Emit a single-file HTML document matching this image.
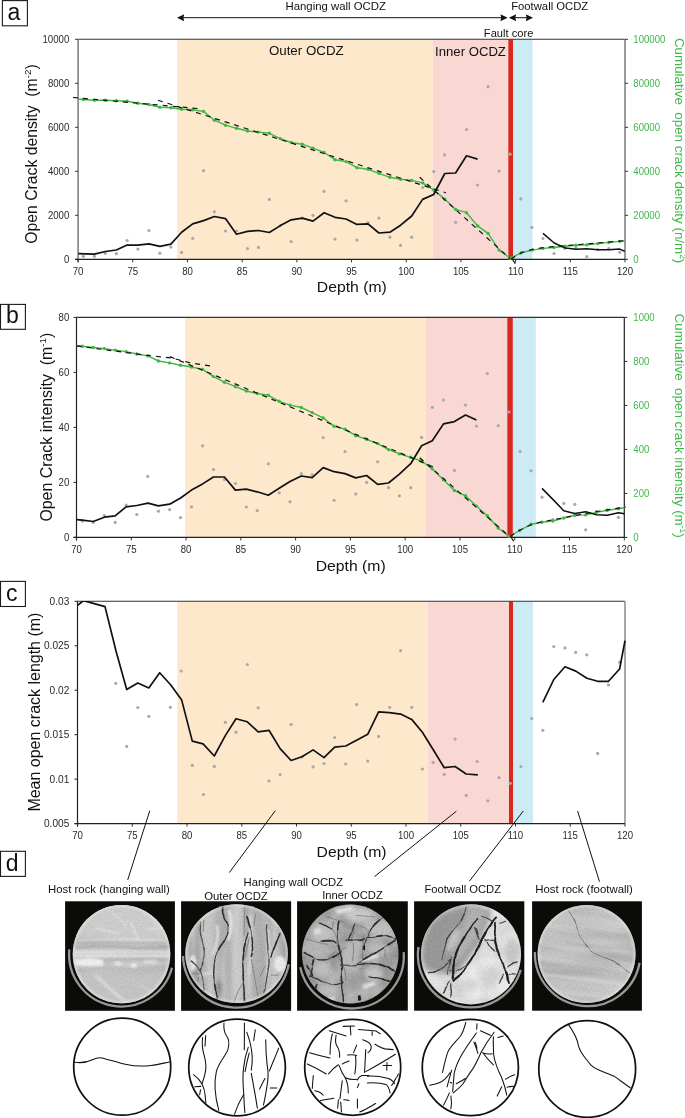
<!DOCTYPE html><html><head><meta charset="utf-8"><style>html,body{margin:0;padding:0;background:#fff;}svg{display:block;will-change:transform;}</style></head><body>
<svg width="685" height="1118" viewBox="0 0 685 1118" font-family="'Liberation Sans', sans-serif">
<rect width="685" height="1118" fill="#fff"/>
<rect x="2.4" y="0.6" width="25.0" height="25.2" fill="#fff" stroke="#1a1a1a" stroke-width="1.1"/>
<text x="13.8" y="20.2" font-size="23" fill="#111" text-anchor="middle" >a</text>
<line x1="180" y1="17.7" x2="503" y2="17.7" stroke="#111" stroke-width="1" />
<path d="M177,17.7 L184.2,14.2 L183.39999999999998,17.7 L184.2,21.2 Z" fill="#111"/>
<path d="M507.6,17.7 L500.40000000000003,14.2 L501.20000000000005,17.7 L500.40000000000003,21.2 Z" fill="#111"/>
<line x1="512" y1="17.7" x2="530" y2="17.7" stroke="#111" stroke-width="1" />
<path d="M508.9,17.7 L516.1,14.2 L515.3000000000001,17.7 L516.1,21.2 Z" fill="#111"/>
<path d="M533,17.7 L525.8,14.2 L526.5999999999999,17.7 L525.8,21.2 Z" fill="#111"/>
<text x="335.7" y="9.6" font-size="11.2" fill="#111" text-anchor="middle" textLength="100.5" lengthAdjust="spacingAndGlyphs" >Hanging wall OCDZ</text>
<text x="549.7" y="9.6" font-size="11.2" fill="#111" text-anchor="middle" textLength="77" lengthAdjust="spacingAndGlyphs" >Footwall OCDZ</text>
<text x="508.6" y="37.3" font-size="11" fill="#111" text-anchor="middle" textLength="49.5" lengthAdjust="spacingAndGlyphs" >Fault core</text>
<rect x="177" y="39.3" width="255.89999999999998" height="220.0" fill="#FDE8CC" />
<rect x="432.9" y="39.3" width="75.40000000000003" height="220.0" fill="#F9D8D4" />
<rect x="513" y="39.3" width="19.600000000000023" height="220.0" fill="#CDEBF5" />
<rect x="508.3" y="39.3" width="4.699999999999989" height="220.0" fill="#D8281E" />
<line x1="78.1" y1="39.3" x2="625" y2="39.3" stroke="#333" stroke-width="1.1" />
<line x1="78.1" y1="39.3" x2="78.1" y2="262.3" stroke="#8a8a8a" stroke-width="1.7" />
<line x1="625" y1="39.3" x2="625" y2="259.3" stroke="#8a8a8a" stroke-width="1.7" />
<line x1="75.1" y1="259.3" x2="78.1" y2="259.3" stroke="#333" stroke-width="1" />
<text x="69.3" y="263.0" font-size="10.7" fill="#2a2a2a" text-anchor="end" textLength="5.36" lengthAdjust="spacingAndGlyphs" >0</text>
<line x1="75.1" y1="215.3" x2="78.1" y2="215.3" stroke="#333" stroke-width="1" />
<text x="69.3" y="219.0" font-size="10.7" fill="#2a2a2a" text-anchor="end" textLength="21.42" lengthAdjust="spacingAndGlyphs" >2000</text>
<line x1="75.1" y1="171.3" x2="78.1" y2="171.3" stroke="#333" stroke-width="1" />
<text x="69.3" y="175.0" font-size="10.7" fill="#2a2a2a" text-anchor="end" textLength="21.42" lengthAdjust="spacingAndGlyphs" >4000</text>
<line x1="75.1" y1="127.30000000000001" x2="78.1" y2="127.30000000000001" stroke="#333" stroke-width="1" />
<text x="69.3" y="131.0" font-size="10.7" fill="#2a2a2a" text-anchor="end" textLength="21.42" lengthAdjust="spacingAndGlyphs" >6000</text>
<line x1="75.1" y1="83.30000000000001" x2="78.1" y2="83.30000000000001" stroke="#333" stroke-width="1" />
<text x="69.3" y="87.00000000000001" font-size="10.7" fill="#2a2a2a" text-anchor="end" textLength="21.42" lengthAdjust="spacingAndGlyphs" >8000</text>
<line x1="75.1" y1="39.30000000000001" x2="78.1" y2="39.30000000000001" stroke="#333" stroke-width="1" />
<text x="69.3" y="43.000000000000014" font-size="10.7" fill="#2a2a2a" text-anchor="end" textLength="26.78" lengthAdjust="spacingAndGlyphs" >10000</text>
<line x1="625" y1="259.3" x2="628" y2="259.3" stroke="#333" stroke-width="1" />
<text x="633.3" y="263.0" font-size="10.7" fill="#3EB847" text-anchor="start" textLength="5.36" lengthAdjust="spacingAndGlyphs" >0</text>
<line x1="625" y1="215.3" x2="628" y2="215.3" stroke="#333" stroke-width="1" />
<text x="633.3" y="219.0" font-size="10.7" fill="#3EB847" text-anchor="start" textLength="26.78" lengthAdjust="spacingAndGlyphs" >20000</text>
<line x1="625" y1="171.3" x2="628" y2="171.3" stroke="#333" stroke-width="1" />
<text x="633.3" y="175.0" font-size="10.7" fill="#3EB847" text-anchor="start" textLength="26.78" lengthAdjust="spacingAndGlyphs" >40000</text>
<line x1="625" y1="127.30000000000001" x2="628" y2="127.30000000000001" stroke="#333" stroke-width="1" />
<text x="633.3" y="131.0" font-size="10.7" fill="#3EB847" text-anchor="start" textLength="26.78" lengthAdjust="spacingAndGlyphs" >60000</text>
<line x1="625" y1="83.30000000000001" x2="628" y2="83.30000000000001" stroke="#333" stroke-width="1" />
<text x="633.3" y="87.00000000000001" font-size="10.7" fill="#3EB847" text-anchor="start" textLength="26.78" lengthAdjust="spacingAndGlyphs" >80000</text>
<line x1="625" y1="39.30000000000001" x2="628" y2="39.30000000000001" stroke="#333" stroke-width="1" />
<text x="633.3" y="43.000000000000014" font-size="10.7" fill="#3EB847" text-anchor="start" textLength="32.14" lengthAdjust="spacingAndGlyphs" >100000</text>
<line x1="78.1" y1="259.3" x2="78.1" y2="262.3" stroke="#333" stroke-width="1" />
<text x="78.1" y="274.7" font-size="10.7" fill="#2a2a2a" text-anchor="middle" textLength="10.71" lengthAdjust="spacingAndGlyphs" >70</text>
<line x1="132.79" y1="259.3" x2="132.79" y2="262.3" stroke="#333" stroke-width="1" />
<text x="132.79" y="274.7" font-size="10.7" fill="#2a2a2a" text-anchor="middle" textLength="10.71" lengthAdjust="spacingAndGlyphs" >75</text>
<line x1="187.48" y1="259.3" x2="187.48" y2="262.3" stroke="#333" stroke-width="1" />
<text x="187.48" y="274.7" font-size="10.7" fill="#2a2a2a" text-anchor="middle" textLength="10.71" lengthAdjust="spacingAndGlyphs" >80</text>
<line x1="242.17" y1="259.3" x2="242.17" y2="262.3" stroke="#333" stroke-width="1" />
<text x="242.17" y="274.7" font-size="10.7" fill="#2a2a2a" text-anchor="middle" textLength="10.71" lengthAdjust="spacingAndGlyphs" >85</text>
<line x1="296.86" y1="259.3" x2="296.86" y2="262.3" stroke="#333" stroke-width="1" />
<text x="296.86" y="274.7" font-size="10.7" fill="#2a2a2a" text-anchor="middle" textLength="10.71" lengthAdjust="spacingAndGlyphs" >90</text>
<line x1="351.54999999999995" y1="259.3" x2="351.54999999999995" y2="262.3" stroke="#333" stroke-width="1" />
<text x="351.54999999999995" y="274.7" font-size="10.7" fill="#2a2a2a" text-anchor="middle" textLength="10.71" lengthAdjust="spacingAndGlyphs" >95</text>
<line x1="406.24" y1="259.3" x2="406.24" y2="262.3" stroke="#333" stroke-width="1" />
<text x="406.24" y="274.7" font-size="10.7" fill="#2a2a2a" text-anchor="middle" textLength="16.07" lengthAdjust="spacingAndGlyphs" >100</text>
<line x1="460.92999999999995" y1="259.3" x2="460.92999999999995" y2="262.3" stroke="#333" stroke-width="1" />
<text x="460.92999999999995" y="274.7" font-size="10.7" fill="#2a2a2a" text-anchor="middle" textLength="16.07" lengthAdjust="spacingAndGlyphs" >105</text>
<line x1="515.62" y1="259.3" x2="515.62" y2="262.3" stroke="#333" stroke-width="1" />
<text x="515.62" y="274.7" font-size="10.7" fill="#2a2a2a" text-anchor="middle" textLength="15.35" lengthAdjust="spacingAndGlyphs" >110</text>
<line x1="570.31" y1="259.3" x2="570.31" y2="262.3" stroke="#333" stroke-width="1" />
<text x="570.31" y="274.7" font-size="10.7" fill="#2a2a2a" text-anchor="middle" textLength="15.35" lengthAdjust="spacingAndGlyphs" >115</text>
<line x1="625.0" y1="259.3" x2="625.0" y2="262.3" stroke="#333" stroke-width="1" />
<text x="625.0" y="274.7" font-size="10.7" fill="#2a2a2a" text-anchor="middle" textLength="16.07" lengthAdjust="spacingAndGlyphs" >120</text>
<line x1="75.1" y1="259.3" x2="625" y2="259.3" stroke="#222" stroke-width="1.2" />
<text x="351.85" y="292.40000000000003" font-size="15.2" fill="#111" text-anchor="middle" textLength="70.0" lengthAdjust="spacingAndGlyphs" >Depth (m)</text>
<text x="306.3" y="55.2" font-size="13.2" fill="#111" text-anchor="middle" textLength="74.8" lengthAdjust="spacingAndGlyphs" >Outer OCDZ</text>
<text x="470.5" y="56.4" font-size="13.2" fill="#111" text-anchor="middle" textLength="70.8" lengthAdjust="spacingAndGlyphs" >Inner OCDZ</text>
<text transform="translate(37.1,154.0) rotate(-90)" x="0" y="0" font-size="15.8" fill="#111" text-anchor="middle" textLength="179.3" lengthAdjust="spacingAndGlyphs">Open Crack density&#160; (m<tspan font-size="9.8" dy="-6">-2</tspan><tspan dy="6">)</tspan></text>
<text transform="translate(674.5,150.6) rotate(90)" x="0" y="0" font-size="13.6" fill="#3EB847" text-anchor="middle" textLength="225.3" lengthAdjust="spacingAndGlyphs">Cumulative&#160; open crack density (n/m<tspan font-size="8.4" dy="-5.5">2</tspan><tspan dy="5.5">)</tspan></text>
<circle cx="83.3" cy="256.3" r="1.6" fill="#ABA7AC"/>
<circle cx="94.4" cy="256.3" r="1.6" fill="#ABA7AC"/>
<circle cx="105.3" cy="253.4" r="1.6" fill="#ABA7AC"/>
<circle cx="116.4" cy="253.7" r="1.6" fill="#ABA7AC"/>
<circle cx="127.1" cy="240.5" r="1.6" fill="#ABA7AC"/>
<circle cx="137.9" cy="249.1" r="1.6" fill="#ABA7AC"/>
<circle cx="148.9" cy="230.5" r="1.6" fill="#ABA7AC"/>
<circle cx="159.9" cy="253.2" r="1.6" fill="#ABA7AC"/>
<circle cx="170.9" cy="247.1" r="1.6" fill="#ABA7AC"/>
<circle cx="181.6" cy="252.4" r="1.6" fill="#ABA7AC"/>
<circle cx="192.7" cy="238.3" r="1.6" fill="#ABA7AC"/>
<circle cx="203.6" cy="170.7" r="1.6" fill="#ABA7AC"/>
<circle cx="214.4" cy="211.8" r="1.6" fill="#ABA7AC"/>
<circle cx="225.5" cy="231.0" r="1.6" fill="#ABA7AC"/>
<circle cx="236.5" cy="231.0" r="1.6" fill="#ABA7AC"/>
<circle cx="247.5" cy="248.7" r="1.6" fill="#ABA7AC"/>
<circle cx="258.5" cy="247.4" r="1.6" fill="#ABA7AC"/>
<circle cx="269.3" cy="199.4" r="1.6" fill="#ABA7AC"/>
<circle cx="280.4" cy="225.6" r="1.6" fill="#ABA7AC"/>
<circle cx="291.2" cy="241.6" r="1.6" fill="#ABA7AC"/>
<circle cx="302.3" cy="218.1" r="1.6" fill="#ABA7AC"/>
<circle cx="313.0" cy="215.3" r="1.6" fill="#ABA7AC"/>
<circle cx="324.1" cy="191.3" r="1.6" fill="#ABA7AC"/>
<circle cx="335.0" cy="239.1" r="1.6" fill="#ABA7AC"/>
<circle cx="346.1" cy="200.8" r="1.6" fill="#ABA7AC"/>
<circle cx="356.9" cy="240.1" r="1.6" fill="#ABA7AC"/>
<circle cx="368.0" cy="222.6" r="1.6" fill="#ABA7AC"/>
<circle cx="378.9" cy="218.1" r="1.6" fill="#ABA7AC"/>
<circle cx="389.9" cy="237.2" r="1.6" fill="#ABA7AC"/>
<circle cx="400.6" cy="245.4" r="1.6" fill="#ABA7AC"/>
<circle cx="411.7" cy="237.2" r="1.6" fill="#ABA7AC"/>
<circle cx="422.6" cy="187.5" r="1.6" fill="#ABA7AC"/>
<circle cx="433.7" cy="171.5" r="1.6" fill="#ABA7AC"/>
<circle cx="444.5" cy="154.9" r="1.6" fill="#ABA7AC"/>
<circle cx="455.6" cy="222.3" r="1.6" fill="#ABA7AC"/>
<circle cx="466.5" cy="129.6" r="1.6" fill="#ABA7AC"/>
<circle cx="477.6" cy="185.0" r="1.6" fill="#ABA7AC"/>
<circle cx="488.1" cy="86.7" r="1.6" fill="#ABA7AC"/>
<circle cx="499.1" cy="171.1" r="1.6" fill="#ABA7AC"/>
<circle cx="510.2" cy="154.2" r="1.6" fill="#ABA7AC"/>
<circle cx="520.8" cy="198.9" r="1.6" fill="#ABA7AC"/>
<circle cx="531.9" cy="227.4" r="1.6" fill="#ABA7AC"/>
<circle cx="543.0" cy="238.5" r="1.6" fill="#ABA7AC"/>
<circle cx="554.0" cy="253.5" r="1.6" fill="#ABA7AC"/>
<circle cx="564.9" cy="248.3" r="1.6" fill="#ABA7AC"/>
<circle cx="575.9" cy="248.2" r="1.6" fill="#ABA7AC"/>
<circle cx="586.8" cy="256.7" r="1.6" fill="#ABA7AC"/>
<circle cx="597.8" cy="249.6" r="1.6" fill="#ABA7AC"/>
<circle cx="608.7" cy="248.7" r="1.6" fill="#ABA7AC"/>
<circle cx="619.7" cy="252.3" r="1.6" fill="#ABA7AC"/>
<polyline points="78.3,99.0 83.3,99.5 94.4,100.2 105.3,100.2 116.4,100.8 127.1,101.2 137.9,103.2 148.9,104.5 159.9,107.3 170.9,107.8 181.6,109.3 192.7,109.8 203.6,111.4 214.4,120.2 225.5,125.2 236.5,128.3 247.5,131.0 258.5,132.1 269.3,133.3 280.4,138.7 291.2,142.5 302.3,144.2 313.0,148.2 324.1,152.5 335.0,159.7 346.1,161.6 356.9,167.7 368.0,169.3 378.9,173.3 389.9,177.3 400.6,179.3 411.7,180.4 422.6,182.9 433.7,190.0 444.8,199.1 455.6,209.4 466.5,212.7 477.6,225.9 488.1,233.4 499.1,250.1 510.2,258.2 521.2,252.8 532.3,250.1 543.0,248.4 554.0,247.5 564.9,246.2 575.9,245.2 586.8,244.7 597.8,243.6 608.7,242.4 619.7,241.4 624.8,241.0" fill="none" stroke="#3EB847" stroke-width="1.4" stroke-linejoin="round" stroke-linecap="butt" />
<circle cx="83.3" cy="99.5" r="1.7" fill="#3EB847"/>
<circle cx="94.4" cy="100.2" r="1.7" fill="#3EB847"/>
<circle cx="105.3" cy="100.2" r="1.7" fill="#3EB847"/>
<circle cx="116.4" cy="100.8" r="1.7" fill="#3EB847"/>
<circle cx="127.1" cy="101.2" r="1.7" fill="#3EB847"/>
<circle cx="137.9" cy="103.2" r="1.7" fill="#3EB847"/>
<circle cx="148.9" cy="104.5" r="1.7" fill="#3EB847"/>
<circle cx="159.9" cy="107.3" r="1.7" fill="#3EB847"/>
<circle cx="170.9" cy="107.8" r="1.7" fill="#3EB847"/>
<circle cx="181.6" cy="109.3" r="1.7" fill="#3EB847"/>
<circle cx="192.7" cy="109.8" r="1.7" fill="#3EB847"/>
<circle cx="203.6" cy="111.4" r="1.7" fill="#3EB847"/>
<circle cx="214.4" cy="120.2" r="1.7" fill="#3EB847"/>
<circle cx="225.5" cy="125.2" r="1.7" fill="#3EB847"/>
<circle cx="236.5" cy="128.3" r="1.7" fill="#3EB847"/>
<circle cx="247.5" cy="131.0" r="1.7" fill="#3EB847"/>
<circle cx="258.5" cy="132.1" r="1.7" fill="#3EB847"/>
<circle cx="269.3" cy="133.3" r="1.7" fill="#3EB847"/>
<circle cx="280.4" cy="138.7" r="1.7" fill="#3EB847"/>
<circle cx="291.2" cy="142.5" r="1.7" fill="#3EB847"/>
<circle cx="302.3" cy="144.2" r="1.7" fill="#3EB847"/>
<circle cx="313.0" cy="148.2" r="1.7" fill="#3EB847"/>
<circle cx="324.1" cy="152.5" r="1.7" fill="#3EB847"/>
<circle cx="335.0" cy="159.7" r="1.7" fill="#3EB847"/>
<circle cx="346.1" cy="161.6" r="1.7" fill="#3EB847"/>
<circle cx="356.9" cy="167.7" r="1.7" fill="#3EB847"/>
<circle cx="368.0" cy="169.3" r="1.7" fill="#3EB847"/>
<circle cx="378.9" cy="173.3" r="1.7" fill="#3EB847"/>
<circle cx="389.9" cy="177.3" r="1.7" fill="#3EB847"/>
<circle cx="400.6" cy="179.3" r="1.7" fill="#3EB847"/>
<circle cx="411.7" cy="180.4" r="1.7" fill="#3EB847"/>
<circle cx="422.6" cy="182.9" r="1.7" fill="#3EB847"/>
<circle cx="433.7" cy="190.0" r="1.7" fill="#3EB847"/>
<circle cx="444.8" cy="199.1" r="1.7" fill="#3EB847"/>
<circle cx="455.6" cy="209.4" r="1.7" fill="#3EB847"/>
<circle cx="466.5" cy="212.7" r="1.7" fill="#3EB847"/>
<circle cx="477.6" cy="225.9" r="1.7" fill="#3EB847"/>
<circle cx="488.1" cy="233.4" r="1.7" fill="#3EB847"/>
<circle cx="499.1" cy="250.1" r="1.7" fill="#3EB847"/>
<circle cx="510.2" cy="258.2" r="1.7" fill="#3EB847"/>
<circle cx="521.2" cy="252.8" r="1.7" fill="#3EB847"/>
<circle cx="532.3" cy="250.1" r="1.7" fill="#3EB847"/>
<circle cx="543.0" cy="248.4" r="1.7" fill="#3EB847"/>
<circle cx="554.0" cy="247.5" r="1.7" fill="#3EB847"/>
<circle cx="564.9" cy="246.2" r="1.7" fill="#3EB847"/>
<circle cx="575.9" cy="245.2" r="1.7" fill="#3EB847"/>
<circle cx="586.8" cy="244.7" r="1.7" fill="#3EB847"/>
<circle cx="597.8" cy="243.6" r="1.7" fill="#3EB847"/>
<circle cx="608.7" cy="242.4" r="1.7" fill="#3EB847"/>
<circle cx="619.7" cy="241.4" r="1.7" fill="#3EB847"/>
<polyline points="73.0,97.5 200.0,108.7" fill="none" stroke="#111" stroke-width="1.2" stroke-linejoin="round" stroke-linecap="butt" stroke-dasharray="5,5"/>
<polyline points="158.0,100.2 446.0,192.8" fill="none" stroke="#111" stroke-width="1.2" stroke-linejoin="round" stroke-linecap="butt" stroke-dasharray="5,5"/>
<polyline points="419.7,177.3 510.0,258.5" fill="none" stroke="#111" stroke-width="1.2" stroke-linejoin="round" stroke-linecap="butt" stroke-dasharray="5,5"/>
<polyline points="511.0,259.0 522.0,252.5 533.0,249.2 543.0,247.6 560.0,246.0 580.0,244.5 600.0,242.8 626.0,240.5" fill="none" stroke="#111" stroke-width="1.2" stroke-linejoin="round" stroke-linecap="butt" stroke-dasharray="5,5"/>
<polyline points="512.5,259.5 516.0,264.5" fill="none" stroke="#111" stroke-width="1.2" stroke-linejoin="round" stroke-linecap="butt" stroke-dasharray="5,5"/>
<polyline points="78.3,253.7 94.4,254.2 105.3,251.5 116.4,250.0 127.1,245.1 137.9,245.1 148.9,243.8 159.9,246.3 170.9,244.1 181.6,232.2 192.7,223.9 203.6,220.6 214.4,216.5 225.5,218.6 236.5,234.2 247.5,231.4 258.5,230.5 269.3,232.5 280.4,225.6 291.2,219.8 302.3,218.1 313.0,221.1 324.1,212.7 335.0,217.3 346.1,219.0 356.9,224.4 368.0,223.9 378.9,233.0 389.9,232.2 400.6,225.2 411.7,216.0 422.6,199.4 433.7,194.5 444.8,173.5 455.6,173.0 466.5,155.8 477.6,159.1" fill="none" stroke="#111" stroke-width="1.7" stroke-linejoin="round" stroke-linecap="butt" />
<polyline points="543.0,233.4 554.2,243.0 565.5,248.1 576.2,249.3 586.8,248.7 597.8,249.7 608.7,249.7 619.7,249.1 624.8,251.2" fill="none" stroke="#111" stroke-width="1.5" stroke-linejoin="round" stroke-linecap="butt" />
<rect x="0.5" y="304.4" width="24.9" height="24.9" fill="#fff" stroke="#1a1a1a" stroke-width="1.1"/>
<text x="12.45" y="323.4" font-size="23" fill="#111" text-anchor="middle" >b</text>
<rect x="185" y="317.4" width="240.7" height="220.0" fill="#FDE8CC" />
<rect x="425.7" y="317.4" width="81.60000000000002" height="220.0" fill="#F9D8D4" />
<rect x="512.8" y="317.4" width="23.0" height="220.0" fill="#CDEBF5" />
<rect x="507.3" y="317.4" width="5.499999999999943" height="220.0" fill="#D8281E" />
<line x1="76.5" y1="317.4" x2="624.3" y2="317.4" stroke="#333" stroke-width="1.1" />
<line x1="76.5" y1="317.4" x2="76.5" y2="540.4" stroke="#222" stroke-width="1.2" />
<line x1="624.3" y1="317.4" x2="624.3" y2="537.4" stroke="#222" stroke-width="1.2" />
<line x1="73.5" y1="537.4" x2="76.5" y2="537.4" stroke="#222" stroke-width="1" />
<text x="69.3" y="541.1" font-size="10.7" fill="#2a2a2a" text-anchor="end" textLength="5.36" lengthAdjust="spacingAndGlyphs" >0</text>
<line x1="73.5" y1="482.4" x2="76.5" y2="482.4" stroke="#222" stroke-width="1" />
<text x="69.3" y="486.09999999999997" font-size="10.7" fill="#2a2a2a" text-anchor="end" textLength="10.71" lengthAdjust="spacingAndGlyphs" >20</text>
<line x1="73.5" y1="427.4" x2="76.5" y2="427.4" stroke="#222" stroke-width="1" />
<text x="69.3" y="431.09999999999997" font-size="10.7" fill="#2a2a2a" text-anchor="end" textLength="10.71" lengthAdjust="spacingAndGlyphs" >40</text>
<line x1="73.5" y1="372.4" x2="76.5" y2="372.4" stroke="#222" stroke-width="1" />
<text x="69.3" y="376.09999999999997" font-size="10.7" fill="#2a2a2a" text-anchor="end" textLength="10.71" lengthAdjust="spacingAndGlyphs" >60</text>
<line x1="73.5" y1="317.4" x2="76.5" y2="317.4" stroke="#222" stroke-width="1" />
<text x="69.3" y="321.09999999999997" font-size="10.7" fill="#2a2a2a" text-anchor="end" textLength="10.71" lengthAdjust="spacingAndGlyphs" >80</text>
<line x1="624.3" y1="537.4" x2="627.3" y2="537.4" stroke="#222" stroke-width="1" />
<text x="633.3" y="541.1" font-size="10.7" fill="#3EB847" text-anchor="start" textLength="5.36" lengthAdjust="spacingAndGlyphs" >0</text>
<line x1="624.3" y1="493.4" x2="627.3" y2="493.4" stroke="#222" stroke-width="1" />
<text x="633.3" y="497.09999999999997" font-size="10.7" fill="#3EB847" text-anchor="start" textLength="16.07" lengthAdjust="spacingAndGlyphs" >200</text>
<line x1="624.3" y1="449.4" x2="627.3" y2="449.4" stroke="#222" stroke-width="1" />
<text x="633.3" y="453.09999999999997" font-size="10.7" fill="#3EB847" text-anchor="start" textLength="16.07" lengthAdjust="spacingAndGlyphs" >400</text>
<line x1="624.3" y1="405.4" x2="627.3" y2="405.4" stroke="#222" stroke-width="1" />
<text x="633.3" y="409.09999999999997" font-size="10.7" fill="#3EB847" text-anchor="start" textLength="16.07" lengthAdjust="spacingAndGlyphs" >600</text>
<line x1="624.3" y1="361.4" x2="627.3" y2="361.4" stroke="#222" stroke-width="1" />
<text x="633.3" y="365.09999999999997" font-size="10.7" fill="#3EB847" text-anchor="start" textLength="16.07" lengthAdjust="spacingAndGlyphs" >800</text>
<line x1="624.3" y1="317.4" x2="627.3" y2="317.4" stroke="#222" stroke-width="1" />
<text x="633.3" y="321.09999999999997" font-size="10.7" fill="#3EB847" text-anchor="start" textLength="21.42" lengthAdjust="spacingAndGlyphs" >1000</text>
<line x1="76.5" y1="537.4" x2="76.5" y2="540.4" stroke="#333" stroke-width="1" />
<text x="76.5" y="552.8" font-size="10.7" fill="#2a2a2a" text-anchor="middle" textLength="10.71" lengthAdjust="spacingAndGlyphs" >70</text>
<line x1="131.28" y1="537.4" x2="131.28" y2="540.4" stroke="#333" stroke-width="1" />
<text x="131.28" y="552.8" font-size="10.7" fill="#2a2a2a" text-anchor="middle" textLength="10.71" lengthAdjust="spacingAndGlyphs" >75</text>
<line x1="186.06" y1="537.4" x2="186.06" y2="540.4" stroke="#333" stroke-width="1" />
<text x="186.06" y="552.8" font-size="10.7" fill="#2a2a2a" text-anchor="middle" textLength="10.71" lengthAdjust="spacingAndGlyphs" >80</text>
<line x1="240.83999999999997" y1="537.4" x2="240.83999999999997" y2="540.4" stroke="#333" stroke-width="1" />
<text x="240.83999999999997" y="552.8" font-size="10.7" fill="#2a2a2a" text-anchor="middle" textLength="10.71" lengthAdjust="spacingAndGlyphs" >85</text>
<line x1="295.62" y1="537.4" x2="295.62" y2="540.4" stroke="#333" stroke-width="1" />
<text x="295.62" y="552.8" font-size="10.7" fill="#2a2a2a" text-anchor="middle" textLength="10.71" lengthAdjust="spacingAndGlyphs" >90</text>
<line x1="350.4" y1="537.4" x2="350.4" y2="540.4" stroke="#333" stroke-width="1" />
<text x="350.4" y="552.8" font-size="10.7" fill="#2a2a2a" text-anchor="middle" textLength="10.71" lengthAdjust="spacingAndGlyphs" >95</text>
<line x1="405.17999999999995" y1="537.4" x2="405.17999999999995" y2="540.4" stroke="#333" stroke-width="1" />
<text x="405.17999999999995" y="552.8" font-size="10.7" fill="#2a2a2a" text-anchor="middle" textLength="16.07" lengthAdjust="spacingAndGlyphs" >100</text>
<line x1="459.9599999999999" y1="537.4" x2="459.9599999999999" y2="540.4" stroke="#333" stroke-width="1" />
<text x="459.9599999999999" y="552.8" font-size="10.7" fill="#2a2a2a" text-anchor="middle" textLength="16.07" lengthAdjust="spacingAndGlyphs" >105</text>
<line x1="514.74" y1="537.4" x2="514.74" y2="540.4" stroke="#333" stroke-width="1" />
<text x="514.74" y="552.8" font-size="10.7" fill="#2a2a2a" text-anchor="middle" textLength="15.35" lengthAdjust="spacingAndGlyphs" >110</text>
<line x1="569.52" y1="537.4" x2="569.52" y2="540.4" stroke="#333" stroke-width="1" />
<text x="569.52" y="552.8" font-size="10.7" fill="#2a2a2a" text-anchor="middle" textLength="15.35" lengthAdjust="spacingAndGlyphs" >115</text>
<line x1="624.3" y1="537.4" x2="624.3" y2="540.4" stroke="#333" stroke-width="1" />
<text x="624.3" y="552.8" font-size="10.7" fill="#2a2a2a" text-anchor="middle" textLength="16.07" lengthAdjust="spacingAndGlyphs" >120</text>
<line x1="73.5" y1="537.4" x2="624.3" y2="537.4" stroke="#222" stroke-width="1.2" />
<text x="350.7" y="570.5" font-size="15.2" fill="#111" text-anchor="middle" textLength="70.0" lengthAdjust="spacingAndGlyphs" >Depth (m)</text>
<text transform="translate(52.3,427.1) rotate(-90)" x="0" y="0" font-size="15.8" fill="#111" text-anchor="middle" textLength="189" lengthAdjust="spacingAndGlyphs">Open Crack intensity&#160; (m<tspan font-size="9.8" dy="-6">-1</tspan><tspan dy="6">)</tspan></text>
<text transform="translate(674.5,425.6) rotate(90)" x="0" y="0" font-size="13.6" fill="#3EB847" text-anchor="middle" textLength="224" lengthAdjust="spacingAndGlyphs">Cumulative&#160; open crack intensity (m<tspan font-size="8.4" dy="-5.5">-1</tspan><tspan dy="5.5">)</tspan></text>
<circle cx="82.3" cy="521.1" r="1.6" fill="#ABA7AC"/>
<circle cx="93.2" cy="522.4" r="1.6" fill="#ABA7AC"/>
<circle cx="104.3" cy="515.5" r="1.6" fill="#ABA7AC"/>
<circle cx="115.2" cy="522.4" r="1.6" fill="#ABA7AC"/>
<circle cx="126.1" cy="505.1" r="1.6" fill="#ABA7AC"/>
<circle cx="136.8" cy="514.5" r="1.6" fill="#ABA7AC"/>
<circle cx="147.7" cy="476.4" r="1.6" fill="#ABA7AC"/>
<circle cx="158.4" cy="511.2" r="1.6" fill="#ABA7AC"/>
<circle cx="169.6" cy="509.7" r="1.6" fill="#ABA7AC"/>
<circle cx="180.5" cy="517.7" r="1.6" fill="#ABA7AC"/>
<circle cx="191.5" cy="506.8" r="1.6" fill="#ABA7AC"/>
<circle cx="202.6" cy="445.8" r="1.6" fill="#ABA7AC"/>
<circle cx="213.5" cy="469.5" r="1.6" fill="#ABA7AC"/>
<circle cx="224.4" cy="479.6" r="1.6" fill="#ABA7AC"/>
<circle cx="235.4" cy="483.6" r="1.6" fill="#ABA7AC"/>
<circle cx="246.3" cy="507.0" r="1.6" fill="#ABA7AC"/>
<circle cx="257.2" cy="510.6" r="1.6" fill="#ABA7AC"/>
<circle cx="268.3" cy="463.8" r="1.6" fill="#ABA7AC"/>
<circle cx="279.2" cy="492.8" r="1.6" fill="#ABA7AC"/>
<circle cx="290.0" cy="501.8" r="1.6" fill="#ABA7AC"/>
<circle cx="301.3" cy="473.6" r="1.6" fill="#ABA7AC"/>
<circle cx="312.2" cy="474.9" r="1.6" fill="#ABA7AC"/>
<circle cx="323.2" cy="437.6" r="1.6" fill="#ABA7AC"/>
<circle cx="334.1" cy="500.3" r="1.6" fill="#ABA7AC"/>
<circle cx="345.0" cy="451.6" r="1.6" fill="#ABA7AC"/>
<circle cx="355.7" cy="493.9" r="1.6" fill="#ABA7AC"/>
<circle cx="366.6" cy="482.4" r="1.6" fill="#ABA7AC"/>
<circle cx="377.7" cy="461.8" r="1.6" fill="#ABA7AC"/>
<circle cx="388.5" cy="487.7" r="1.6" fill="#ABA7AC"/>
<circle cx="399.4" cy="495.8" r="1.6" fill="#ABA7AC"/>
<circle cx="410.7" cy="487.7" r="1.6" fill="#ABA7AC"/>
<circle cx="421.6" cy="437.4" r="1.6" fill="#ABA7AC"/>
<circle cx="432.3" cy="407.3" r="1.6" fill="#ABA7AC"/>
<circle cx="443.5" cy="400.0" r="1.6" fill="#ABA7AC"/>
<circle cx="454.4" cy="470.4" r="1.6" fill="#ABA7AC"/>
<circle cx="465.5" cy="405.1" r="1.6" fill="#ABA7AC"/>
<circle cx="476.4" cy="426.1" r="1.6" fill="#ABA7AC"/>
<circle cx="487.3" cy="373.6" r="1.6" fill="#ABA7AC"/>
<circle cx="498.2" cy="425.7" r="1.6" fill="#ABA7AC"/>
<circle cx="509.0" cy="412.0" r="1.6" fill="#ABA7AC"/>
<circle cx="520.1" cy="451.5" r="1.6" fill="#ABA7AC"/>
<circle cx="531.0" cy="470.8" r="1.6" fill="#ABA7AC"/>
<circle cx="542.0" cy="497.2" r="1.6" fill="#ABA7AC"/>
<circle cx="552.9" cy="519.7" r="1.6" fill="#ABA7AC"/>
<circle cx="563.9" cy="503.4" r="1.6" fill="#ABA7AC"/>
<circle cx="574.8" cy="504.3" r="1.6" fill="#ABA7AC"/>
<circle cx="585.7" cy="529.8" r="1.6" fill="#ABA7AC"/>
<circle cx="596.5" cy="511.4" r="1.6" fill="#ABA7AC"/>
<circle cx="618.4" cy="517.3" r="1.6" fill="#ABA7AC"/>
<polyline points="76.6,345.5 82.3,346.3 93.2,347.5 104.3,348.6 115.2,350.1 126.1,351.6 136.8,354.0 148.0,355.9 158.4,361.0 169.6,362.9 180.5,365.3 191.5,367.0 202.6,369.4 213.5,376.6 224.4,382.2 235.4,386.7 246.3,391.0 257.2,393.5 268.3,395.3 279.2,401.3 290.0,405.1 301.3,407.5 312.2,412.6 323.2,417.9 334.1,426.3 345.0,429.1 355.7,435.7 366.6,439.3 377.7,443.6 388.5,449.6 399.4,453.9 410.7,457.3 421.6,461.0 432.3,468.9 443.5,479.8 454.4,490.5 465.5,495.8 476.4,506.1 487.3,515.8 498.2,528.0 509.0,536.5 519.7,530.5 531.0,524.3 542.0,522.3 552.9,521.0 563.7,518.0 574.8,515.3 585.7,514.9 596.5,512.4 607.4,510.3 618.4,508.8 624.5,507.7" fill="none" stroke="#3EB847" stroke-width="1.4" stroke-linejoin="round" stroke-linecap="butt" />
<circle cx="82.3" cy="346.3" r="1.7" fill="#3EB847"/>
<circle cx="93.2" cy="347.5" r="1.7" fill="#3EB847"/>
<circle cx="104.3" cy="348.6" r="1.7" fill="#3EB847"/>
<circle cx="115.2" cy="350.1" r="1.7" fill="#3EB847"/>
<circle cx="126.1" cy="351.6" r="1.7" fill="#3EB847"/>
<circle cx="136.8" cy="354.0" r="1.7" fill="#3EB847"/>
<circle cx="148.0" cy="355.9" r="1.7" fill="#3EB847"/>
<circle cx="158.4" cy="361.0" r="1.7" fill="#3EB847"/>
<circle cx="169.6" cy="362.9" r="1.7" fill="#3EB847"/>
<circle cx="180.5" cy="365.3" r="1.7" fill="#3EB847"/>
<circle cx="191.5" cy="367.0" r="1.7" fill="#3EB847"/>
<circle cx="202.6" cy="369.4" r="1.7" fill="#3EB847"/>
<circle cx="213.5" cy="376.6" r="1.7" fill="#3EB847"/>
<circle cx="224.4" cy="382.2" r="1.7" fill="#3EB847"/>
<circle cx="235.4" cy="386.7" r="1.7" fill="#3EB847"/>
<circle cx="246.3" cy="391.0" r="1.7" fill="#3EB847"/>
<circle cx="257.2" cy="393.5" r="1.7" fill="#3EB847"/>
<circle cx="268.3" cy="395.3" r="1.7" fill="#3EB847"/>
<circle cx="279.2" cy="401.3" r="1.7" fill="#3EB847"/>
<circle cx="290.0" cy="405.1" r="1.7" fill="#3EB847"/>
<circle cx="301.3" cy="407.5" r="1.7" fill="#3EB847"/>
<circle cx="312.2" cy="412.6" r="1.7" fill="#3EB847"/>
<circle cx="323.2" cy="417.9" r="1.7" fill="#3EB847"/>
<circle cx="334.1" cy="426.3" r="1.7" fill="#3EB847"/>
<circle cx="345.0" cy="429.1" r="1.7" fill="#3EB847"/>
<circle cx="355.7" cy="435.7" r="1.7" fill="#3EB847"/>
<circle cx="366.6" cy="439.3" r="1.7" fill="#3EB847"/>
<circle cx="377.7" cy="443.6" r="1.7" fill="#3EB847"/>
<circle cx="388.5" cy="449.6" r="1.7" fill="#3EB847"/>
<circle cx="399.4" cy="453.9" r="1.7" fill="#3EB847"/>
<circle cx="410.7" cy="457.3" r="1.7" fill="#3EB847"/>
<circle cx="421.6" cy="461.0" r="1.7" fill="#3EB847"/>
<circle cx="432.3" cy="468.9" r="1.7" fill="#3EB847"/>
<circle cx="443.5" cy="479.8" r="1.7" fill="#3EB847"/>
<circle cx="454.4" cy="490.5" r="1.7" fill="#3EB847"/>
<circle cx="465.5" cy="495.8" r="1.7" fill="#3EB847"/>
<circle cx="476.4" cy="506.1" r="1.7" fill="#3EB847"/>
<circle cx="487.3" cy="515.8" r="1.7" fill="#3EB847"/>
<circle cx="498.2" cy="528.0" r="1.7" fill="#3EB847"/>
<circle cx="509.0" cy="536.5" r="1.7" fill="#3EB847"/>
<circle cx="519.7" cy="530.5" r="1.7" fill="#3EB847"/>
<circle cx="531.0" cy="524.3" r="1.7" fill="#3EB847"/>
<circle cx="542.0" cy="522.3" r="1.7" fill="#3EB847"/>
<circle cx="552.9" cy="521.0" r="1.7" fill="#3EB847"/>
<circle cx="563.7" cy="518.0" r="1.7" fill="#3EB847"/>
<circle cx="574.8" cy="515.3" r="1.7" fill="#3EB847"/>
<circle cx="585.7" cy="514.9" r="1.7" fill="#3EB847"/>
<circle cx="596.5" cy="512.4" r="1.7" fill="#3EB847"/>
<circle cx="607.4" cy="510.3" r="1.7" fill="#3EB847"/>
<circle cx="618.4" cy="508.8" r="1.7" fill="#3EB847"/>
<polyline points="76.6,345.9 146.0,355.2 172.0,358.0 189.4,362.6 212.8,366.4" fill="none" stroke="#111" stroke-width="1.2" stroke-linejoin="round" stroke-linecap="butt" stroke-dasharray="5,5"/>
<polyline points="170.0,356.6 436.0,468.0" fill="none" stroke="#111" stroke-width="1.2" stroke-linejoin="round" stroke-linecap="butt" stroke-dasharray="5,5"/>
<polyline points="419.7,457.7 509.0,536.0" fill="none" stroke="#111" stroke-width="1.2" stroke-linejoin="round" stroke-linecap="butt" stroke-dasharray="5,5"/>
<polyline points="510.0,536.5 520.0,530.0 531.0,524.8 542.0,521.8 560.0,518.5 580.0,514.5 600.0,511.0 626.0,507.0" fill="none" stroke="#111" stroke-width="1.2" stroke-linejoin="round" stroke-linecap="butt" stroke-dasharray="5,5"/>
<polyline points="511.0,537.0 514.0,542.0" fill="none" stroke="#111" stroke-width="1.2" stroke-linejoin="round" stroke-linecap="butt" stroke-dasharray="5,5"/>
<polyline points="76.7,519.6 82.3,520.2 93.2,521.5 104.3,517.2 115.2,515.8 126.1,506.8 136.8,505.5 148.0,503.1 158.4,505.9 169.6,504.2 180.6,498.0 191.5,490.1 202.6,483.9 213.5,477.0 224.4,477.0 235.4,490.1 246.3,489.2 257.2,491.8 268.3,495.2 279.2,488.2 290.0,481.5 301.3,476.0 312.2,477.7 323.2,467.6 334.1,471.7 345.0,473.6 355.7,477.9 366.6,475.5 377.7,484.3 388.5,483.0 399.4,474.2 410.7,463.7 421.6,445.8 432.3,440.8 443.5,423.9 454.4,421.6 465.5,415.0 476.4,420.1" fill="none" stroke="#111" stroke-width="1.7" stroke-linejoin="round" stroke-linecap="butt" />
<polyline points="542.0,488.4 553.1,499.6 563.7,510.7 574.8,513.4 585.7,511.8 596.5,514.7 607.4,515.3 618.4,512.7 624.5,513.8" fill="none" stroke="#111" stroke-width="1.5" stroke-linejoin="round" stroke-linecap="butt" />
<rect x="0.5" y="581.4" width="24.9" height="25.1" fill="#fff" stroke="#1a1a1a" stroke-width="1.1"/>
<text x="11.75" y="601.0" font-size="23" fill="#111" text-anchor="middle" >c</text>
<rect x="177.3" y="601.3" width="250.8" height="222.30000000000007" fill="#FDE8CC" />
<rect x="428.1" y="601.3" width="80.89999999999998" height="222.30000000000007" fill="#F9D8D4" />
<rect x="513" y="601.3" width="20" height="222.30000000000007" fill="#CDEBF5" />
<rect x="509" y="601.3" width="4" height="222.30000000000007" fill="#D8281E" />
<line x1="77.5" y1="601.3" x2="625" y2="601.3" stroke="#333" stroke-width="1.1" />
<line x1="77.5" y1="601.3" x2="77.5" y2="826.6" stroke="#222" stroke-width="1.2" />
<line x1="625" y1="601.3" x2="625" y2="823.6" stroke="#8a8a8a" stroke-width="1.5" />
<line x1="74.5" y1="823.6" x2="77.5" y2="823.6" stroke="#222" stroke-width="1" />
<text x="69.3" y="827.3000000000001" font-size="10.7" fill="#2a2a2a" text-anchor="end" textLength="25.3" lengthAdjust="spacingAndGlyphs" >0.005</text>
<line x1="74.5" y1="779.14" x2="77.5" y2="779.14" stroke="#222" stroke-width="1" />
<text x="69.3" y="782.84" font-size="10.7" fill="#2a2a2a" text-anchor="end" textLength="19.68" lengthAdjust="spacingAndGlyphs" >0.01</text>
<line x1="74.5" y1="734.6800000000001" x2="77.5" y2="734.6800000000001" stroke="#222" stroke-width="1" />
<text x="69.3" y="738.3800000000001" font-size="10.7" fill="#2a2a2a" text-anchor="end" textLength="25.3" lengthAdjust="spacingAndGlyphs" >0.015</text>
<line x1="74.5" y1="690.22" x2="77.5" y2="690.22" stroke="#222" stroke-width="1" />
<text x="69.3" y="693.9200000000001" font-size="10.7" fill="#2a2a2a" text-anchor="end" textLength="19.68" lengthAdjust="spacingAndGlyphs" >0.02</text>
<line x1="74.5" y1="645.76" x2="77.5" y2="645.76" stroke="#222" stroke-width="1" />
<text x="69.3" y="649.46" font-size="10.7" fill="#2a2a2a" text-anchor="end" textLength="25.3" lengthAdjust="spacingAndGlyphs" >0.025</text>
<line x1="74.5" y1="601.3" x2="77.5" y2="601.3" stroke="#222" stroke-width="1" />
<text x="69.3" y="605.0" font-size="10.7" fill="#2a2a2a" text-anchor="end" textLength="19.68" lengthAdjust="spacingAndGlyphs" >0.03</text>
<line x1="77.5" y1="823.6" x2="77.5" y2="826.6" stroke="#333" stroke-width="1" />
<text x="77.5" y="839.0" font-size="10.7" fill="#2a2a2a" text-anchor="middle" textLength="10.71" lengthAdjust="spacingAndGlyphs" >70</text>
<line x1="132.25" y1="823.6" x2="132.25" y2="826.6" stroke="#333" stroke-width="1" />
<text x="132.25" y="839.0" font-size="10.7" fill="#2a2a2a" text-anchor="middle" textLength="10.71" lengthAdjust="spacingAndGlyphs" >75</text>
<line x1="187.0" y1="823.6" x2="187.0" y2="826.6" stroke="#333" stroke-width="1" />
<text x="187.0" y="839.0" font-size="10.7" fill="#2a2a2a" text-anchor="middle" textLength="10.71" lengthAdjust="spacingAndGlyphs" >80</text>
<line x1="241.75" y1="823.6" x2="241.75" y2="826.6" stroke="#333" stroke-width="1" />
<text x="241.75" y="839.0" font-size="10.7" fill="#2a2a2a" text-anchor="middle" textLength="10.71" lengthAdjust="spacingAndGlyphs" >85</text>
<line x1="296.5" y1="823.6" x2="296.5" y2="826.6" stroke="#333" stroke-width="1" />
<text x="296.5" y="839.0" font-size="10.7" fill="#2a2a2a" text-anchor="middle" textLength="10.71" lengthAdjust="spacingAndGlyphs" >90</text>
<line x1="351.25" y1="823.6" x2="351.25" y2="826.6" stroke="#333" stroke-width="1" />
<text x="351.25" y="839.0" font-size="10.7" fill="#2a2a2a" text-anchor="middle" textLength="10.71" lengthAdjust="spacingAndGlyphs" >95</text>
<line x1="406.0" y1="823.6" x2="406.0" y2="826.6" stroke="#333" stroke-width="1" />
<text x="406.0" y="839.0" font-size="10.7" fill="#2a2a2a" text-anchor="middle" textLength="16.07" lengthAdjust="spacingAndGlyphs" >100</text>
<line x1="460.75" y1="823.6" x2="460.75" y2="826.6" stroke="#333" stroke-width="1" />
<text x="460.75" y="839.0" font-size="10.7" fill="#2a2a2a" text-anchor="middle" textLength="16.07" lengthAdjust="spacingAndGlyphs" >105</text>
<line x1="515.5" y1="823.6" x2="515.5" y2="826.6" stroke="#333" stroke-width="1" />
<text x="515.5" y="839.0" font-size="10.7" fill="#2a2a2a" text-anchor="middle" textLength="15.35" lengthAdjust="spacingAndGlyphs" >110</text>
<line x1="570.25" y1="823.6" x2="570.25" y2="826.6" stroke="#333" stroke-width="1" />
<text x="570.25" y="839.0" font-size="10.7" fill="#2a2a2a" text-anchor="middle" textLength="15.35" lengthAdjust="spacingAndGlyphs" >115</text>
<line x1="625.0" y1="823.6" x2="625.0" y2="826.6" stroke="#333" stroke-width="1" />
<text x="625.0" y="839.0" font-size="10.7" fill="#2a2a2a" text-anchor="middle" textLength="16.07" lengthAdjust="spacingAndGlyphs" >120</text>
<line x1="74.5" y1="823.6" x2="625" y2="823.6" stroke="#222" stroke-width="1.2" />
<text x="351.55" y="856.7" font-size="15.2" fill="#111" text-anchor="middle" textLength="70.0" lengthAdjust="spacingAndGlyphs" >Depth (m)</text>
<text transform="translate(39.7,712.1) rotate(-90)" font-size="16" fill="#111" text-anchor="middle" textLength="199" lengthAdjust="spacingAndGlyphs">Mean open crack length (m)</text>
<circle cx="115.7" cy="683.3" r="1.6" fill="#ABA7AC"/>
<circle cx="126.7" cy="746.4" r="1.6" fill="#ABA7AC"/>
<circle cx="137.8" cy="707.5" r="1.6" fill="#ABA7AC"/>
<circle cx="148.8" cy="716.3" r="1.6" fill="#ABA7AC"/>
<circle cx="170.4" cy="707.3" r="1.6" fill="#ABA7AC"/>
<circle cx="181.2" cy="671.0" r="1.6" fill="#ABA7AC"/>
<circle cx="192.3" cy="765.3" r="1.6" fill="#ABA7AC"/>
<circle cx="203.4" cy="794.5" r="1.6" fill="#ABA7AC"/>
<circle cx="214.3" cy="766.4" r="1.6" fill="#ABA7AC"/>
<circle cx="225.3" cy="722.3" r="1.6" fill="#ABA7AC"/>
<circle cx="236.0" cy="732.2" r="1.6" fill="#ABA7AC"/>
<circle cx="247.3" cy="664.5" r="1.6" fill="#ABA7AC"/>
<circle cx="258.2" cy="707.8" r="1.6" fill="#ABA7AC"/>
<circle cx="269.0" cy="780.9" r="1.6" fill="#ABA7AC"/>
<circle cx="280.2" cy="774.5" r="1.6" fill="#ABA7AC"/>
<circle cx="291.1" cy="724.4" r="1.6" fill="#ABA7AC"/>
<circle cx="302.0" cy="756.8" r="1.6" fill="#ABA7AC"/>
<circle cx="313.1" cy="766.9" r="1.6" fill="#ABA7AC"/>
<circle cx="324.0" cy="763.5" r="1.6" fill="#ABA7AC"/>
<circle cx="334.7" cy="737.5" r="1.6" fill="#ABA7AC"/>
<circle cx="345.7" cy="764.0" r="1.6" fill="#ABA7AC"/>
<circle cx="356.6" cy="704.6" r="1.6" fill="#ABA7AC"/>
<circle cx="367.7" cy="761.1" r="1.6" fill="#ABA7AC"/>
<circle cx="378.6" cy="736.4" r="1.6" fill="#ABA7AC"/>
<circle cx="389.7" cy="707.3" r="1.6" fill="#ABA7AC"/>
<circle cx="400.6" cy="650.6" r="1.6" fill="#ABA7AC"/>
<circle cx="411.7" cy="707.3" r="1.6" fill="#ABA7AC"/>
<circle cx="422.4" cy="769.0" r="1.6" fill="#ABA7AC"/>
<circle cx="433.1" cy="762.4" r="1.6" fill="#ABA7AC"/>
<circle cx="444.2" cy="774.3" r="1.6" fill="#ABA7AC"/>
<circle cx="455.1" cy="739.1" r="1.6" fill="#ABA7AC"/>
<circle cx="466.2" cy="795.4" r="1.6" fill="#ABA7AC"/>
<circle cx="477.2" cy="761.5" r="1.6" fill="#ABA7AC"/>
<circle cx="487.9" cy="800.8" r="1.6" fill="#ABA7AC"/>
<circle cx="499.0" cy="777.7" r="1.6" fill="#ABA7AC"/>
<circle cx="510.2" cy="783.3" r="1.6" fill="#ABA7AC"/>
<circle cx="521.0" cy="766.5" r="1.6" fill="#ABA7AC"/>
<circle cx="531.7" cy="718.5" r="1.6" fill="#ABA7AC"/>
<circle cx="542.8" cy="730.3" r="1.6" fill="#ABA7AC"/>
<circle cx="553.8" cy="646.6" r="1.6" fill="#ABA7AC"/>
<circle cx="565.0" cy="647.9" r="1.6" fill="#ABA7AC"/>
<circle cx="575.7" cy="652.4" r="1.6" fill="#ABA7AC"/>
<circle cx="586.8" cy="654.8" r="1.6" fill="#ABA7AC"/>
<circle cx="597.6" cy="753.4" r="1.6" fill="#ABA7AC"/>
<circle cx="608.5" cy="684.9" r="1.6" fill="#ABA7AC"/>
<circle cx="619.6" cy="662.2" r="1.6" fill="#ABA7AC"/>
<clipPath id="clipc"><rect x="77.5" y="601.0" width="547.5" height="222.6"/></clipPath>
<g clip-path="url(#clipc)">
<polyline points="77.3,605.5 83.6,600.6 105.0,606.6 116.2,651.8 126.7,689.6 137.8,682.9 148.8,688.0 159.7,672.8 170.8,685.0 181.7,700.1 192.3,741.1 203.1,743.9 214.3,756.0 225.3,735.6 236.0,718.7 247.3,721.8 258.2,731.9 269.0,730.3 280.1,748.6 291.1,760.5 302.0,756.8 313.1,749.9 324.0,757.6 334.7,747.2 345.7,746.0 356.6,740.3 367.7,734.3 378.6,711.8 389.3,712.6 400.6,714.1 411.7,719.4 422.4,732.3 433.1,749.5 444.2,767.7 455.1,766.5 466.2,774.0 477.8,774.9" fill="none" stroke="#111" stroke-width="1.7" stroke-linejoin="round" stroke-linecap="butt" />
</g>
<polyline points="542.8,702.4 553.8,679.5 565.0,666.7 575.8,671.1 586.9,678.3 597.6,681.3 608.5,681.3 619.6,669.0 625.0,640.7" fill="none" stroke="#111" stroke-width="1.7" stroke-linejoin="round" stroke-linecap="butt" />
<rect x="0.5" y="851.3" width="24.9" height="25.1" fill="#fff" stroke="#1a1a1a" stroke-width="1.1"/>
<text x="12.1" y="870.6" font-size="23" fill="#111" text-anchor="middle" >d</text>
<line x1="149.8" y1="810.6" x2="127.7" y2="879.9" stroke="#111" stroke-width="1" />
<line x1="275.3" y1="810.7" x2="229.3" y2="872.6" stroke="#111" stroke-width="1" />
<line x1="456.4" y1="811.2" x2="374.5" y2="876.6" stroke="#111" stroke-width="1" />
<line x1="523.3" y1="811" x2="469.4" y2="881.2" stroke="#111" stroke-width="1" />
<line x1="577.6" y1="811" x2="599.5" y2="881.7" stroke="#111" stroke-width="1" />
<text x="109" y="892.6" font-size="11.2" fill="#111" text-anchor="middle" textLength="121.8" lengthAdjust="spacingAndGlyphs" >Host rock (hanging wall)</text>
<text x="236" y="899.8" font-size="11.2" fill="#111" text-anchor="middle" textLength="63.5" lengthAdjust="spacingAndGlyphs" >Outer OCDZ</text>
<text x="293.3" y="886.1" font-size="11.2" fill="#111" text-anchor="middle" textLength="99.5" lengthAdjust="spacingAndGlyphs" >Hanging wall OCDZ</text>
<text x="352.5" y="899.4" font-size="11.2" fill="#111" text-anchor="middle" textLength="60.6" lengthAdjust="spacingAndGlyphs" >Inner OCDZ</text>
<text x="462.7" y="892.9" font-size="11.2" fill="#111" text-anchor="middle" textLength="76.6" lengthAdjust="spacingAndGlyphs" >Footwall OCDZ</text>
<text x="584.1" y="893" font-size="11.2" fill="#111" text-anchor="middle" textLength="97.6" lengthAdjust="spacingAndGlyphs" >Host rock (footwall)</text>
<defs><filter id="b06" x="-10%" y="-10%" width="120%" height="120%"><feGaussianBlur stdDeviation="0.6"/></filter><filter id="jag" x="-10%" y="-10%" width="120%" height="120%" color-interpolation-filters="sRGB"><feTurbulence type="fractalNoise" baseFrequency="0.09" numOctaves="2" seed="5" result="t"/><feDisplacementMap in="SourceGraphic" in2="t" scale="3.2" xChannelSelector="R" yChannelSelector="G" result="d"/><feGaussianBlur in="d" stdDeviation="0.45"/></filter><filter id="b10" x="-10%" y="-10%" width="120%" height="120%"><feGaussianBlur stdDeviation="1.0"/></filter><filter id="b25" x="-30%" y="-30%" width="160%" height="160%"><feGaussianBlur stdDeviation="2.5"/></filter><filter id="b4" x="-30%" y="-30%" width="160%" height="160%"><feGaussianBlur stdDeviation="4"/></filter><filter id="noise" x="0" y="0" width="100%" height="100%" color-interpolation-filters="sRGB"><feTurbulence type="fractalNoise" baseFrequency="0.7" numOctaves="2" seed="7"/><feColorMatrix type="matrix" values="1.6 0 0 0 -0.3  1.6 0 0 0 -0.3  1.6 0 0 0 -0.3  0 0 0 0 1"/></filter><filter id="stV" x="0" y="0" width="100%" height="100%" color-interpolation-filters="sRGB"><feTurbulence type="fractalNoise" baseFrequency="0.09 0.012" numOctaves="2" seed="4"/><feColorMatrix type="matrix" values="2 0 0 0 -0.5  2 0 0 0 -0.5  2 0 0 0 -0.5  0 0 0 0 1"/></filter><filter id="stH" x="0" y="0" width="100%" height="100%" color-interpolation-filters="sRGB"><feTurbulence type="fractalNoise" baseFrequency="0.012 0.09" numOctaves="2" seed="9"/><feColorMatrix type="matrix" values="2 0 0 0 -0.5  2 0 0 0 -0.5  2 0 0 0 -0.5  0 0 0 0 1"/></filter><filter id="stI" x="0" y="0" width="100%" height="100%" color-interpolation-filters="sRGB"><feTurbulence type="fractalNoise" baseFrequency="0.05" numOctaves="3" seed="11"/><feColorMatrix type="matrix" values="2 0 0 0 -0.5  2 0 0 0 -0.5  2 0 0 0 -0.5  0 0 0 0 1"/></filter></defs>
<rect x="65.1" y="901.3" width="109.80000000000001" height="109.5" fill="#0b0c08" />
<clipPath id="cc0"><ellipse cx="121.5" cy="954.1" rx="48.8" ry="49.2"/></clipPath>
<g clip-path="url(#cc0)">
<rect x="70.7" y="902.9" width="101.6" height="102.4" fill="#cbcbcb"/>
<rect x="60.7" y="892.9" width="121.6" height="122.4" filter="url(#stH)" opacity="0.12"/>
<g filter="url(#b25)">
<rect x="70" y="900" width="104" height="37" fill="#d2d2d2"/>
<rect x="70" y="972" width="104" height="40" fill="#c8c8c8"/>
</g>
<g filter="url(#b10)" fill="none" opacity="0.85">
<path d="M130,921 C133,928 136,934 139,941" stroke="#f0f0f0" stroke-width="1.6"/>
<path d="M95,928 C103,930 111,932 120,934" stroke="#ececec" stroke-width="1.3"/>
<path d="M147,930 C153,929 159,927.5 165,926.5" stroke="#ececec" stroke-width="1.3"/>
<path d="M78,940.5 C100,939.5 130,939 166,940.5" stroke="#efefef" stroke-width="1.5"/>
<path d="M110,912 C118,916 124,922 128,930" stroke="#e6e6e6" stroke-width="1.2"/>
<path d="M150,915 C155,922 158,930 160,938" stroke="#e4e4e4" stroke-width="1.2"/>
</g>
<g filter="url(#b10)">
<path d="M74,947.8 C95,946.5 110,946 125,947 C140,948.3 155,948 170,946.8" stroke="#9e9e9e" stroke-width="1.3" fill="none"/>
<path d="M74,944 C100,942.5 130,943 170,944" stroke="#bcbcbc" stroke-width="2" fill="none"/>
<path d="M74,952.5 C100,951.5 130,952.5 170,952" stroke="#f2f2f2" stroke-width="1.8" fill="none"/>
<path d="M74,956 C100,955.5 130,956.3 170,955.8" stroke="#f4f4f4" stroke-width="2.2" fill="none"/>
<path d="M74,959 L90,958 L103,959.5 L104,965.5 L90,966.5 L75,965.5 Z" fill="#f6f6f6"/>
<ellipse cx="118" cy="963.5" rx="4" ry="1.8" fill="#f0f0f0"/>
<ellipse cx="133.7" cy="965.4" rx="3.2" ry="1.8" fill="#f8f8f8"/>
<ellipse cx="150" cy="962" rx="8" ry="2" fill="#e2e2e2"/>
<path d="M73,969.5 C100,969 130,970 170,969.5" stroke="#bcbcbc" stroke-width="2" fill="none"/>
<path d="M95,975 C105,984 116,994 128,1004" stroke="#dedede" stroke-width="3.5" fill="none"/>
<path d="M140,985 C148,990 155,996 160,1000" stroke="#d8d8d8" stroke-width="2" fill="none"/>
</g>
<rect x="70.7" y="902.9" width="101.6" height="102.4" filter="url(#noise)" opacity="0.08"/>
<ellipse cx="121.5" cy="954.1" rx="48.0" ry="48.400000000000006" fill="none" stroke="#eeeeee" stroke-width="2" opacity="0.7" filter="url(#b10)"/>
</g>
<path d="M172.0,967.8 A52.37,52.37 0 0 1 69.3,949.3" fill="none" stroke="#999" stroke-width="2.3"/>
<rect x="181.1" y="901.3" width="110.00000000000003" height="109.5" fill="#0b0c08" />
<clipPath id="cc1"><ellipse cx="236.6" cy="953.7" rx="51.3" ry="49.4"/></clipPath>
<g clip-path="url(#cc1)">
<rect x="183.3" y="902.3000000000001" width="106.6" height="102.8" fill="#c3c3c3"/>
<rect x="173.3" y="892.3000000000001" width="126.6" height="122.8" filter="url(#stV)" opacity="0.16"/>
<g filter="url(#b25)">
<path d="M236,905 L237,1003" stroke="#d2d2d2" stroke-width="9"/>
<path d="M258,905 L256,1003" stroke="#b4b4b4" stroke-width="5"/>
<path d="M212,905 L210,1003" stroke="#cfcfcf" stroke-width="6"/>
<ellipse cx="218.6" cy="987" rx="2.5" ry="6" fill="#777"/>
</g>
<g filter="url(#b10)">
<path d="M229,910 C232,920 232,930 228,940" stroke="#eeeeee" stroke-width="3" fill="none"/>
<path d="M217,925 C219,935 217,945 213,955" stroke="#e8e8e8" stroke-width="2.5" fill="none"/>
<ellipse cx="280" cy="964" rx="6" ry="8" fill="#f0f0f0"/>
<ellipse cx="193" cy="963" rx="3.5" ry="8" fill="#ebebeb"/>
<path d="M250,915 C252,935 251,955 249,975" stroke="#e2e2e2" stroke-width="2" fill="none"/>
<path d="M268,930 C270,945 269,960 268,975" stroke="#e4e4e4" stroke-width="2" fill="none"/>
<path d="M200,975 L215,972" stroke="#e6e6e6" stroke-width="2" fill="none"/>
</g>
<g filter="url(#b06)"><g transform="translate(236.60,953.70) scale(0.15833) translate(-336.3,-332.6)" fill="none" stroke="#808080" stroke-width="5.684" stroke-linecap="round" stroke-linejoin="round"><path d="M130,122 C128,145 127,170 125,192"/><path d="M58,460 L98,457"/><path d="M96,480 L90,512"/><path d="M385,40 L384,215"/><path d="M416,238 C405,280 396,320 389,360"/><path d="M456,85 L446,155"/><path d="M430,370 C440,430 455,500 470,600"/><path d="M380,510 C355,550 335,590 320,640"/><path d="M520,405 C505,430 495,455 485,475"/><path d="M555,468 L598,468"/></g></g>
<g fill="none" stroke="#4a4a4a" stroke-linecap="round" stroke-linejoin="round" filter="url(#b06)"><polyline points="200.6,922.0 200.4,923.6 200.4,925.5" stroke-width="0.84"/><polyline points="200.4,925.5 200.4,927.2 200.3,928.9" stroke-width="1.10"/><polyline points="200.3,928.9 200.1,930.3 200.3,931.9 200.5,933.4 200.8,935.0" stroke-width="1.24"/><polyline points="200.8,935.0 201.2,936.6 201.6,938.3 202.2,940.0 202.4,941.6" stroke-width="1.20"/><polyline points="202.4,941.6 202.9,943.1 203.0,944.5" stroke-width="1.05"/><polyline points="203.0,944.5 203.4,946.0 203.7,947.3" stroke-width="0.89"/><polyline points="203.7,947.3 204.1,948.5 204.2,949.9" stroke-width="1.56"/><polyline points="204.2,949.9 204.3,951.4 204.2,953.1 204.1,954.5 204.0,956.0 203.8,957.3" stroke-width="1.03"/><polyline points="203.8,957.3 203.3,958.9 203.1,960.2 202.9,961.5 202.8,962.5" stroke-width="0.92"/><polyline points="202.8,962.5 202.5,963.7 202.3,965.1" stroke-width="1.58"/><polyline points="202.3,965.1 202.0,966.1 201.6,967.0 201.3,967.7 200.8,968.6" stroke-width="1.05"/><polyline points="200.8,968.6 200.7,969.2 200.4,970.0 200.2,970.8" stroke-width="1.52"/><polyline points="191.2,961.1 192.0,961.7 192.9,962.4" stroke-width="1.45"/><polyline points="192.9,962.4 193.7,963.1 194.5,963.8 195.3,964.6 196.1,965.3" stroke-width="1.27"/><polyline points="196.1,965.3 196.8,966.1 197.5,967.0 198.1,967.9 198.7,968.7 199.3,969.7" stroke-width="1.03"/><polyline points="199.3,969.7 200.0,970.6 200.6,971.6 201.1,972.5 201.2,973.6" stroke-width="1.17"/><polyline points="201.2,973.6 201.6,974.6 201.9,975.6 202.2,976.5 202.5,977.8 202.8,978.9" stroke-width="1.03"/><polyline points="202.8,978.9 203.0,980.2 203.2,981.0 203.2,982.2 203.6,983.3 203.5,984.3" stroke-width="0.83"/><polyline points="203.5,984.3 203.6,985.1 203.7,985.6 203.6,986.0 203.5,986.7 203.5,987.3" stroke-width="0.92"/><polyline points="203.5,987.3 203.9,988.1 204.0,988.8" stroke-width="1.18"/><polyline points="204.0,988.8 204.0,989.3 203.9,989.6 204.0,990.0 204.0,990.6" stroke-width="1.25"/><polyline points="266.9,924.9 266.6,926.7 266.4,928.6" stroke-width="1.25"/><polyline points="266.4,928.6 266.5,931.0 266.8,933.1" stroke-width="1.10"/><polyline points="266.8,933.1 267.1,935.5 267.1,937.7 267.3,940.1 267.4,942.2 267.7,944.7" stroke-width="1.31"/><polyline points="267.7,944.7 268.0,946.9 267.9,949.4" stroke-width="1.30"/><polyline points="267.9,949.4 268.0,951.7 268.0,953.6 268.5,955.5 268.8,957.5 269.0,959.8" stroke-width="0.84"/><polyline points="269.0,959.8 269.0,961.9 268.9,963.6 268.8,965.3 268.5,967.2 268.1,969.2" stroke-width="1.41"/><polyline points="268.1,969.2 268.0,971.4 267.6,973.4 267.2,975.5 266.9,977.3" stroke-width="1.14"/><polyline points="266.9,977.3 266.5,979.0 266.5,980.7 266.1,982.4 265.8,984.0 265.5,985.5" stroke-width="1.17"/><polyline points="265.5,985.5 265.4,987.1 265.4,988.4 264.8,989.6" stroke-width="0.97"/><polyline points="264.8,989.6 264.5,990.4 264.0,991.6 263.8,992.9" stroke-width="1.36"/></g>
<g fill="none" stroke="#262626" stroke-linecap="round" stroke-linejoin="round" filter="url(#b06)"><polyline points="222.6,907.2 222.6,908.4 222.6,909.7" stroke-width="1.70"/><polyline points="222.6,909.7 222.5,910.9 222.6,912.0 222.9,913.2 223.3,914.4" stroke-width="1.63"/><polyline points="223.3,914.4 223.6,915.4 223.7,916.3 223.9,917.0 224.1,918.2 224.6,919.3" stroke-width="1.48"/><polyline points="224.6,919.3 225.0,920.1 225.7,921.0 226.6,921.9" stroke-width="1.27"/><polyline points="226.6,921.9 227.3,923.1 227.9,924.2 228.1,925.6" stroke-width="1.23"/><polyline points="228.1,925.6 228.1,927.0 228.0,928.6 227.9,930.0 227.9,931.3 227.9,932.4" stroke-width="0.74"/><polyline points="227.9,932.4 227.7,933.6 227.2,935.0 226.3,937.1 225.3,938.9 224.4,940.7" stroke-width="1.23"/><polyline points="224.4,940.7 223.1,942.4 221.9,944.3 220.6,945.9 219.7,947.6 218.7,949.3" stroke-width="1.70"/><polyline points="218.7,949.3 217.8,951.2 216.6,953.4 215.8,955.7 215.1,958.1 214.8,960.5" stroke-width="0.93"/><polyline points="214.8,960.5 214.4,962.9 214.1,965.8" stroke-width="1.01"/><polyline points="214.1,965.8 213.9,969.2 213.8,971.0 213.8,972.7" stroke-width="1.33"/><polyline points="213.8,972.7 213.7,974.2 213.7,976.1 214.0,977.9" stroke-width="1.20"/><polyline points="214.0,977.9 214.1,979.8 214.2,981.3 214.3,983.0 214.7,984.8" stroke-width="0.87"/><polyline points="214.7,984.8 215.1,986.9 215.4,988.8" stroke-width="1.77"/><polyline points="215.4,988.8 215.7,990.6 216.3,992.5 216.6,994.4 217.1,996.6" stroke-width="1.38"/><polyline points="217.1,996.6 217.4,998.7" stroke-width="1.86"/><polyline points="246.9,916.8 247.7,918.9 248.2,920.9 248.7,923.0 249.2,925.0 250.1,927.2" stroke-width="1.80"/><polyline points="250.1,927.2 250.6,929.1 251.2,931.1 251.4,933.1 251.6,935.3 251.8,937.6" stroke-width="0.73"/><polyline points="251.8,937.6 252.3,939.8 252.4,942.1" stroke-width="1.53"/><polyline points="252.4,942.1 252.5,943.6 252.3,945.1" stroke-width="1.29"/><polyline points="252.3,945.1 252.4,946.6 252.5,948.0 252.5,949.3 252.2,950.5" stroke-width="1.43"/><polyline points="252.2,950.5 252.0,951.4 252.0,952.7 251.9,953.7" stroke-width="0.75"/><polyline points="251.9,953.7 251.8,954.8 251.4,955.7" stroke-width="1.62"/><polyline points="251.4,955.7 251.3,956.7" stroke-width="1.06"/><polyline points="248.0,932.9 247.7,934.4 247.1,935.9 246.7,937.5" stroke-width="1.10"/><polyline points="246.7,937.5 246.2,939.0 245.7,940.5 245.5,942.1 245.1,944.0" stroke-width="1.09"/><polyline points="245.1,944.0 244.7,945.7 244.2,947.4 243.9,949.3 243.8,951.3" stroke-width="1.76"/><polyline points="243.8,951.3 243.7,953.6 243.5,955.5" stroke-width="1.33"/><polyline points="243.5,955.5 243.1,957.6 243.1,959.8" stroke-width="1.66"/><polyline points="243.1,959.8 242.8,961.8 242.8,964.0" stroke-width="0.89"/><polyline points="242.8,964.0 242.9,966.2 243.0,968.4 243.2,970.7 243.2,973.0 243.2,975.6" stroke-width="1.49"/><polyline points="243.2,975.6 243.2,978.0 243.4,980.3" stroke-width="1.61"/><polyline points="243.4,980.3 243.5,982.5 243.6,984.8" stroke-width="0.91"/><polyline points="243.6,984.8 243.7,986.9 244.0,988.7 244.0,990.7 244.3,992.3 244.1,994.1" stroke-width="1.51"/><polyline points="244.1,994.1 244.2,995.5 244.2,997.2 244.4,998.3" stroke-width="1.44"/><polyline points="244.4,998.3 244.5,999.6 244.4,1000.7" stroke-width="1.72"/><polyline points="280.2,933.4 279.2,935.6 278.4,937.6 277.4,939.7 276.6,941.6" stroke-width="1.42"/><polyline points="276.6,941.6 275.9,943.6 275.2,945.5 274.5,947.4 273.6,949.2" stroke-width="1.79"/><polyline points="273.6,949.2 272.9,950.9 272.1,952.9 271.5,954.9 270.8,957.2" stroke-width="1.28"/></g>
<rect x="183.3" y="902.3000000000001" width="106.6" height="102.8" filter="url(#noise)" opacity="0.08"/>
<ellipse cx="236.6" cy="953.7" rx="50.5" ry="48.6" fill="none" stroke="#eeeeee" stroke-width="2" opacity="0.7" filter="url(#b10)"/>
</g>
<path d="M288.8,964.3 A53.4,53.4 0 0 1 183.0,956.0" fill="none" stroke="#999" stroke-width="2.3"/>
<rect x="297.1" y="901.3" width="110.69999999999999" height="109.40000000000009" fill="#0b0c08" />
<clipPath id="cc2"><ellipse cx="350.3" cy="954.0" rx="48.2" ry="49.6"/></clipPath>
<g clip-path="url(#cc2)">
<rect x="300.1" y="902.4" width="100.4" height="103.2" fill="#b0b0b0"/>
<rect x="290.1" y="892.4" width="120.4" height="123.2" filter="url(#stI)" opacity="0.16"/>
<g transform="translate(297,900) scale(0.16351)">
<g filter="url(#b25)" transform="scale(6.116)"><g transform="scale(0.16351)">
<ellipse cx="370" cy="90" rx="90" ry="45" fill="#cfcfcf"/>
<ellipse cx="150" cy="200" rx="60" ry="60" fill="#c6c6c6"/>
<ellipse cx="520" cy="180" rx="60" ry="50" fill="#c4c4c4"/>
<ellipse cx="500" cy="300" rx="70" ry="40" fill="#c0c0c0"/>
<ellipse cx="150" cy="420" rx="60" ry="50" fill="#c2c2c2"/>
<ellipse cx="330" cy="320" rx="50" ry="60" fill="#bdbdbd"/>
<ellipse cx="470" cy="450" rx="60" ry="40" fill="#c8c8c8"/>
<ellipse cx="200" cy="560" rx="60" ry="40" fill="#c0c0c0"/>
<ellipse cx="350" cy="500" rx="40" ry="60" fill="#a0a0a0"/>
<ellipse cx="560" cy="380" rx="40" ry="30" fill="#9c9c9c"/>
<ellipse cx="100" cy="300" rx="40" ry="60" fill="#b8b8b8"/>
</g></g>
<g filter="url(#b10)" transform="scale(6.116)"><g transform="scale(0.16351)">
<path d="M385,368 L485,333 L505,343 L405,380 Z" fill="#f2f2f2"/>
<path d="M230,60 L330,40 L360,60 L250,85 Z" fill="#e6e6e6"/>
<path d="M400,520 L470,500 L480,520 L410,545 Z" fill="#e8e8e8"/>
<path d="M100,180 L140,170 L150,200 L110,215 Z" fill="#e4e4e4"/>
<path d="M180,600 L230,590 L240,610 L190,625 Z" fill="#dedede"/>
</g></g>
</g>
<g fill="none" stroke="#262626" stroke-linecap="round" stroke-linejoin="round" filter="url(#b06)"><polyline points="382.8,917.6 381.6,918.4 380.7,919.1 379.5,919.9" stroke-width="0.81"/><polyline points="379.5,919.9 378.5,920.9 377.4,921.9" stroke-width="1.56"/><polyline points="377.4,921.9 376.4,922.9 375.4,923.7" stroke-width="1.73"/><polyline points="375.4,923.7 374.2,925.0 373.2,926.3" stroke-width="1.72"/><polyline points="373.2,926.3 372.2,927.6 371.3,928.7 370.6,929.8 370.4,930.7" stroke-width="1.19"/><polyline points="370.4,930.7 369.9,931.5 369.5,932.3 368.9,933.1 368.7,934.3 368.7,935.1" stroke-width="0.86"/><polyline points="368.7,935.1 368.5,935.8 368.3,936.4" stroke-width="1.09"/><polyline points="368.3,936.4 367.7,937.0 367.4,937.7 366.8,938.1 366.3,938.9" stroke-width="0.60"/><polyline points="366.3,938.9 365.9,939.9 365.8,940.8" stroke-width="0.88"/><polyline points="365.8,940.8 365.6,941.7 365.1,942.5 364.7,943.5 364.4,944.3 364.3,945.4" stroke-width="0.95"/><polyline points="364.3,945.4 364.4,946.7 364.2,947.5" stroke-width="1.00"/><polyline points="364.2,947.5 364.4,948.3 364.3,949.1 364.5,950.3" stroke-width="0.73"/><polyline points="366.5,937.9 368.0,937.7 369.5,937.5" stroke-width="0.96"/><polyline points="369.5,937.5 371.2,937.5 372.7,937.5 374.0,937.3" stroke-width="0.83"/><polyline points="374.0,937.3 375.7,936.8 377.1,936.4" stroke-width="0.81"/><polyline points="377.1,936.4 378.7,936.1 380.4,935.9 382.1,935.7" stroke-width="1.72"/><polyline points="382.1,935.7 383.8,935.7 385.3,935.6 386.4,935.6" stroke-width="0.83"/><polyline points="386.4,935.6 387.5,935.8 388.2,936.3 389.4,936.5 390.2,936.9 391.0,936.9" stroke-width="1.37"/><polyline points="391.0,936.9 391.9,937.4 392.7,937.7 393.8,938.4 394.5,938.7 395.3,938.8" stroke-width="0.71"/><polyline points="395.3,938.8 395.7,938.9" stroke-width="1.37"/><polyline points="395.1,940.1 393.9,941.1 392.6,942.0 391.4,942.7 389.8,943.8 388.1,944.7" stroke-width="1.88"/><polyline points="388.1,944.7 386.5,945.7 384.9,946.7 383.3,948.1" stroke-width="0.74"/><polyline points="383.3,948.1 381.6,949.3 379.7,950.4 377.9,951.7 375.5,952.9" stroke-width="1.47"/><polyline points="375.5,952.9 373.7,953.7 371.8,954.5 370.2,955.5 368.7,956.5 367.1,957.4" stroke-width="1.61"/><polyline points="367.1,957.4 365.9,958.1 364.5,958.8 363.3,959.6" stroke-width="1.86"/><polyline points="363.3,959.6 361.6,960.7 360.0,961.9" stroke-width="0.74"/><polyline points="360.0,961.9 358.7,962.8 357.7,963.8" stroke-width="0.70"/><polyline points="357.8,964.3 359.2,964.4 360.6,964.3 362.5,964.0 364.4,963.8" stroke-width="1.31"/><polyline points="364.4,963.8 366.7,963.6 368.4,963.9 370.4,963.5" stroke-width="0.87"/><polyline points="370.4,963.5 372.5,963.7 375.0,963.7 377.2,964.1 379.4,964.5" stroke-width="1.46"/><polyline points="379.4,964.5 381.8,965.2 383.7,965.9 385.3,966.4" stroke-width="1.83"/><polyline points="385.3,966.4 386.7,966.6 387.9,966.9" stroke-width="1.04"/><polyline points="387.9,966.9 389.2,967.5 390.3,968.5 391.4,969.2 392.4,969.9 393.6,970.3" stroke-width="1.85"/><polyline points="393.6,970.3 394.2,970.9 394.8,971.6 395.4,972.3" stroke-width="0.87"/><polyline points="304.3,952.5 305.5,953.3 306.9,954.1 308.4,954.9 310.1,955.6" stroke-width="1.57"/><polyline points="310.1,955.6 311.3,956.4 312.8,957.1" stroke-width="1.31"/><polyline points="312.8,957.1 314.1,957.9 315.4,958.7 316.8,959.4 318.2,959.6" stroke-width="0.63"/><polyline points="318.2,959.6 319.9,959.9 321.3,959.9 322.8,959.9" stroke-width="1.30"/><polyline points="322.8,959.9 324.6,959.8 326.2,959.7" stroke-width="1.19"/><polyline points="326.2,959.7 327.9,959.4 329.2,958.9 330.9,958.1 332.8,957.1" stroke-width="0.87"/><polyline points="332.8,957.1 334.8,956.1 336.6,955.3 338.1,954.3" stroke-width="1.77"/><polyline points="338.1,954.3 339.7,953.1 341.4,951.8" stroke-width="1.27"/><polyline points="313.6,959.8 313.2,961.1 312.9,962.6 312.5,964.4" stroke-width="1.87"/><polyline points="312.5,964.4 312.7,965.8 312.4,967.1 312.2,968.4" stroke-width="0.64"/><polyline points="312.2,968.4 311.8,970.0 311.6,971.6 311.4,972.8" stroke-width="1.45"/><polyline points="311.4,972.8 311.0,974.2 310.5,975.4 309.9,976.8" stroke-width="0.97"/><polyline points="309.4,975.9 311.0,976.3 312.9,977.2 314.7,977.9 316.6,978.8" stroke-width="1.02"/><polyline points="316.6,978.8 318.5,979.5 319.9,980.5 321.5,981.3" stroke-width="1.32"/><polyline points="321.5,981.3 322.9,981.9 324.9,982.3" stroke-width="0.77"/><polyline points="324.9,982.3 326.7,982.8 328.7,983.6 330.5,984.1" stroke-width="0.72"/><polyline points="330.5,984.1 332.0,984.6 333.4,984.6 334.8,984.6" stroke-width="0.63"/><polyline points="334.8,984.6 336.1,984.4 337.0,984.2 337.9,984.2 338.9,983.8 340.0,983.6" stroke-width="1.07"/><polyline points="340.0,983.6 340.8,983.4 341.5,983.3" stroke-width="0.72"/><polyline points="341.5,983.3 342.2,982.9 342.8,982.3" stroke-width="1.52"/><polyline points="338.9,921.3 338.4,923.2 338.0,925.1 338.1,926.7 337.8,928.1 337.8,929.4" stroke-width="1.58"/><polyline points="337.8,929.4 337.7,930.8 337.6,932.4 337.5,934.1 337.5,936.0" stroke-width="0.70"/><polyline points="337.5,936.0 337.5,937.8 337.8,939.8 337.8,941.6 338.2,943.4 338.3,945.4" stroke-width="0.81"/><polyline points="338.3,945.4 338.8,947.0 339.2,949.0 339.8,950.6" stroke-width="1.89"/><polyline points="339.8,950.6 340.0,952.5 340.5,953.9 340.9,955.7 341.5,957.5 341.6,959.2" stroke-width="1.51"/><polyline points="341.6,959.2 341.7,960.8 341.9,962.4 341.9,963.2 342.2,964.0 342.2,964.7" stroke-width="1.82"/><polyline points="342.2,964.7 342.6,965.3 342.3,965.9" stroke-width="1.51"/><polyline points="342.3,965.9 342.3,966.6 342.2,967.2 342.3,967.7 342.2,968.2 341.8,968.7" stroke-width="1.51"/><polyline points="341.8,968.7 341.6,968.9 341.6,969.2" stroke-width="1.72"/><polyline points="341.8,969.4 341.6,970.9 341.3,972.6 341.5,974.3 341.3,976.1" stroke-width="0.94"/><polyline points="341.3,976.1 341.4,978.1 341.4,979.8 341.7,981.6" stroke-width="1.52"/><polyline points="341.7,981.6 341.9,983.0 341.7,984.6 341.6,986.1" stroke-width="1.24"/><polyline points="341.6,986.1 341.7,988.0 342.0,990.0 342.4,991.2" stroke-width="1.13"/><polyline points="342.4,991.2 342.5,992.4 342.5,993.4 342.7,994.6 343.1,995.3" stroke-width="1.21"/><polyline points="343.1,995.3 343.3,996.3 343.2,997.2 343.2,998.5 343.3,999.2 343.4,1000.4" stroke-width="1.51"/><polyline points="343.4,1000.4 343.4,1001.0 343.5,1002.1" stroke-width="0.95"/><polyline points="340.3,964.9 341.9,965.0 343.5,965.1 344.8,965.2 346.1,965.1 347.3,965.2" stroke-width="0.93"/><polyline points="347.3,965.2 348.6,965.7 350.2,966.0 351.7,966.0 353.5,965.8" stroke-width="0.80"/><polyline points="353.5,965.8 354.9,965.7 356.3,965.2" stroke-width="0.98"/><polyline points="356.3,965.2 357.5,964.7" stroke-width="0.95"/><polyline points="345.9,940.1 347.1,940.0 348.4,940.0" stroke-width="1.17"/><polyline points="348.4,940.0 349.3,940.2 350.8,940.1 352.2,940.0" stroke-width="1.47"/><polyline points="352.2,940.0 353.4,940.1 354.2,940.1 355.5,939.9" stroke-width="0.72"/><polyline points="355.5,939.9 356.6,939.8 357.9,939.9" stroke-width="0.88"/><polyline points="357.9,939.9 358.9,940.2 360.1,940.4" stroke-width="1.20"/><polyline points="360.1,940.4 360.5,940.3 360.7,940.3 361.0,940.1" stroke-width="1.53"/><polyline points="361.0,940.1 361.4,940.1 361.6,940.1 362.0,940.2 362.2,939.8" stroke-width="1.37"/><polyline points="362.2,939.8 362.6,939.5 363.1,939.1" stroke-width="1.62"/><polyline points="363.1,939.1 363.5,939.2 364.0,938.9 364.2,938.8" stroke-width="1.60"/><polyline points="319.5,923.1 320.6,923.3 321.5,923.9 322.6,924.3 323.6,924.9" stroke-width="1.18"/><polyline points="323.6,924.9 324.6,925.2 325.7,925.6 326.9,926.3 328.0,926.9 328.9,927.5" stroke-width="1.35"/><polyline points="328.9,927.5 329.6,927.8 330.6,928.4 331.6,929.0" stroke-width="1.18"/><polyline points="321.5,941.0 322.8,941.1 324.0,940.9" stroke-width="1.63"/><polyline points="324.0,940.9 325.3,940.7 326.5,940.7 327.6,940.8 328.9,940.8 329.9,940.7" stroke-width="1.88"/><polyline points="329.9,940.7 331.2,940.8 332.4,941.0 333.7,941.3 334.9,942.0 335.9,942.8" stroke-width="1.42"/><polyline points="354.8,924.1 354.1,925.5 353.5,926.9 353.1,928.0 353.0,929.4" stroke-width="1.16"/><polyline points="353.0,929.4 352.5,930.7 352.0,932.1 351.4,933.2 350.9,934.3" stroke-width="0.98"/><polyline points="350.9,934.3 350.0,935.8 349.4,937.2" stroke-width="1.42"/><polyline points="349.4,937.2 348.9,938.2 348.6,939.2" stroke-width="1.04"/><polyline points="369.1,976.7 370.4,977.1 371.8,977.4 373.6,977.8 375.3,977.7" stroke-width="1.16"/><polyline points="375.3,977.7 377.1,977.9 379.0,978.1 380.8,978.6 382.7,979.1" stroke-width="1.31"/><polyline points="382.7,979.1 384.7,979.9 386.9,980.5 389.2,981.2" stroke-width="1.60"/><polyline points="389.2,981.2 391.6,981.7" stroke-width="1.58"/><polyline points="316.8,984.6 316.4,985.3 315.9,986.5" stroke-width="1.54"/><polyline points="315.9,986.5 315.9,987.6 315.9,988.6 316.1,989.4 315.9,990.1" stroke-width="1.61"/><polyline points="315.9,990.1 315.8,991.0 315.5,991.6 315.4,992.6 315.4,993.3 315.0,994.0" stroke-width="0.89"/><polyline points="315.0,994.0 314.6,994.4" stroke-width="1.08"/><polyline points="306.8,965.7 307.3,966.4 307.5,967.3" stroke-width="1.41"/><polyline points="307.5,967.3 308.4,968.2 309.0,969.0" stroke-width="1.58"/><polyline points="309.0,969.0 309.8,969.4 309.9,970.3 310.2,971.0 310.5,971.8" stroke-width="0.71"/><polyline points="310.5,971.8 311.0,972.3 311.5,973.2" stroke-width="0.75"/><polyline points="311.5,973.2 311.9,974.3 312.2,975.3" stroke-width="1.81"/></g>
<g filter="url(#b06)"><path d="M358.8,995.6 L359.5,1000.5" stroke="#111" stroke-width="3.4"/><path d="M364.4,945.8 L364,949.9" stroke="#111" stroke-width="3"/></g>
<g filter="url(#b06)" opacity="0.7"><g transform="translate(350.30,954.00) scale(0.15475) translate(-334,-331.3)" fill="none" stroke="#6a6a6a" stroke-width="5.816" stroke-linecap="round" stroke-linejoin="round"><path d="M180,90 L290,125"/><path d="M372,82 L490,92"/><path d="M400,150 C430,160 450,175 455,190 C458,205 448,225 435,235"/><path d="M225,120 C220,150 215,170 230,190 C245,215 250,240 248,265"/><path d="M50,235 C100,250 140,260 185,270"/><path d="M175,375 C195,350 215,330 240,315"/><path d="M265,310 C280,300 295,295 310,290"/><path d="M360,185 L340,235"/><path d="M352,260 C358,290 355,330 348,375"/><path d="M420,215 L412,365"/><path d="M560,300 L558,350"/><path d="M245,320 C255,350 270,380 285,400 C300,430 305,470 305,500"/><path d="M365,415 C370,400 380,390 395,385 L440,385"/></g></g>
<rect x="300.1" y="902.4" width="100.4" height="103.2" filter="url(#noise)" opacity="0.08"/>
</g>
<path d="M403.7,952.2 A52.37,52.37 0 0 1 300.3,967.2" fill="none" stroke="#999" stroke-width="2.3"/>
<rect x="414.1" y="901.3" width="110.19999999999993" height="109.40000000000009" fill="#0b0c08" />
<clipPath id="cc3"><ellipse cx="471.0" cy="954.3" rx="50.0" ry="50.1"/></clipPath>
<g clip-path="url(#cc3)">
<rect x="419.0" y="902.1999999999999" width="104.0" height="104.2" fill="#f1f1f1"/>
<rect x="409.0" y="892.1999999999999" width="124.0" height="124.2" filter="url(#stI)" opacity="0.1"/>
<g filter="url(#b25)">
<path d="M422.8,940.9 L429.4,924.5 L442.4,913.1 L462.1,906.5 L478.4,905.7 L491.5,909.8 L489.8,918 L483.3,932.7 L478.4,944.1 L470.2,955.6 L462.1,967 L452.2,975.2 L445.7,973.6 L426.1,970.3 L421.2,957.2 Z" fill="#9a9a9a"/>
<path d="M468,908 L488,910 L478,935 L462,958 L452,962 L458,940 Z" fill="#b4b4b4"/>
<ellipse cx="453" cy="940" rx="3" ry="13" fill="#d6d6d6" transform="rotate(25 453 940)"/>
<ellipse cx="512" cy="952" rx="7" ry="12" fill="#cacaca"/>
<ellipse cx="500" cy="925" rx="8" ry="8" fill="#e2e2e2"/>
<ellipse cx="470" cy="985" rx="8" ry="5" fill="#dcdcdc"/>
<ellipse cx="492" cy="975" rx="6" ry="8" fill="#d8d8d8"/>
</g>
<g fill="none" stroke="#3a3a3a" stroke-linecap="round" stroke-linejoin="round" filter="url(#b06)"><polyline points="466.0,907.2 465.8,908.6 465.4,910.0 465.1,911.3 464.6,912.6 464.2,914.0" stroke-width="0.93"/><polyline points="464.2,914.0 463.8,915.2 463.1,916.3 462.7,917.5 462.0,918.9 461.4,920.2" stroke-width="1.41"/><polyline points="461.4,920.2 460.7,921.3 460.2,922.5 459.0,923.6 457.8,925.0" stroke-width="0.72"/><polyline points="457.8,925.0 456.5,926.2 455.7,927.4 454.6,928.6 453.5,929.6 452.4,931.1" stroke-width="0.98"/><polyline points="452.4,931.1 451.2,932.4 450.4,933.9" stroke-width="1.09"/><polyline points="450.4,933.9 449.2,935.4 448.4,936.7 447.3,938.2" stroke-width="1.31"/><polyline points="447.3,938.2 446.7,939.7 446.4,941.5 445.9,943.1" stroke-width="1.29"/><polyline points="445.9,943.1 445.5,945.0 445.0,946.9 444.6,948.7 444.1,950.5 443.5,952.0" stroke-width="1.01"/><polyline points="443.5,952.0 443.0,954.0 442.5,955.8 442.3,957.9 442.1,959.8" stroke-width="0.76"/><polyline points="481.5,916.4 483.1,916.8 484.7,917.3 486.3,917.7 487.6,918.4" stroke-width="0.93"/><polyline points="487.6,918.4 488.9,919.2 490.2,920.0 491.7,920.8" stroke-width="1.04"/><polyline points="499.6,923.2 501.7,922.7 503.6,922.0 505.5,921.3" stroke-width="1.02"/><polyline points="474.7,927.5 475.1,928.5 475.4,929.7 475.9,930.8 476.3,931.8" stroke-width="1.29"/><polyline points="476.3,931.8 476.6,932.7 476.8,933.4 477.0,934.3 477.5,935.4 477.8,936.5" stroke-width="1.36"/><polyline points="477.8,936.5 478.4,937.5 478.7,938.3 479.1,939.4" stroke-width="1.11"/><polyline points="476.3,928.7 476.9,930.4 477.6,932.3" stroke-width="1.26"/><polyline points="477.6,932.3 478.0,934.2" stroke-width="1.11"/><polyline points="483.8,938.7 484.5,939.2 485.2,939.8" stroke-width="0.88"/><polyline points="485.2,939.8 486.1,940.1 487.1,940.2 487.9,940.1" stroke-width="1.08"/><polyline points="487.9,940.1 488.8,940.1 489.7,940.1 490.4,940.4 491.0,940.4" stroke-width="0.86"/><polyline points="491.0,940.4 491.8,940.3 492.8,940.3" stroke-width="1.08"/><polyline points="492.8,940.3 493.9,940.3" stroke-width="1.34"/><polyline points="484.5,940.1 485.5,940.9 486.6,941.8 487.4,942.6" stroke-width="0.72"/><polyline points="487.4,942.6 488.1,943.9 488.7,945.1" stroke-width="1.12"/><polyline points="488.7,945.1 489.5,946.0 490.3,946.9 491.4,947.9" stroke-width="1.05"/><polyline points="491.4,947.9 492.3,949.0 493.3,949.8 494.1,950.6" stroke-width="1.36"/><polyline points="494.1,950.6 494.9,951.5" stroke-width="0.72"/><polyline points="428.5,972.6 430.2,972.5 431.8,972.4 433.3,972.2 434.7,971.9" stroke-width="1.44"/><polyline points="434.7,971.9 436.1,971.4 437.5,970.7 438.8,969.9" stroke-width="1.37"/><polyline points="438.8,969.9 440.3,969.3 441.5,968.8 442.5,968.0" stroke-width="1.03"/><polyline points="442.5,968.0 443.6,967.4 444.7,966.3 445.1,965.9 445.5,965.3 445.8,964.9" stroke-width="1.05"/><polyline points="445.8,964.9 446.6,964.2 447.3,963.4" stroke-width="1.24"/><polyline points="447.3,963.4 447.8,962.8 448.2,962.4 448.4,961.9 448.6,961.2 449.0,960.5" stroke-width="0.76"/><polyline points="449.0,960.5 449.4,960.1 449.8,959.7" stroke-width="1.33"/><polyline points="451.7,956.8 451.2,958.3 450.8,959.7" stroke-width="0.79"/><polyline points="450.8,959.7 450.4,961.1 450.0,962.4 449.7,963.9" stroke-width="1.48"/><polyline points="449.7,963.9 449.4,965.3 449.0,966.8" stroke-width="0.77"/><polyline points="449.0,966.8 448.4,968.2 448.1,969.7 447.7,971.1 447.5,972.7" stroke-width="0.73"/><polyline points="447.5,972.7 447.2,974.4" stroke-width="0.92"/><polyline points="449.7,970.1 451.4,970.8" stroke-width="1.02"/><polyline points="456.3,971.0 457.1,970.6 457.8,970.1 458.5,969.9" stroke-width="0.86"/><polyline points="458.5,969.9 459.4,969.6 460.2,969.5 461.1,968.9 461.8,968.4" stroke-width="1.20"/><polyline points="461.8,968.4 462.5,967.8 463.0,967.4 463.8,967.2" stroke-width="0.93"/><polyline points="463.8,967.2 464.8,966.5 465.8,965.7" stroke-width="0.92"/><polyline points="449.5,981.1 448.9,982.0 448.2,982.8 447.6,983.6 447.4,984.6" stroke-width="1.04"/><polyline points="447.4,984.6 447.0,985.9 446.4,987.1" stroke-width="0.77"/><polyline points="446.4,987.1 445.7,988.2 445.2,989.3 444.8,990.5 444.4,991.8 443.8,992.5" stroke-width="1.40"/><polyline points="443.8,992.5 443.3,993.1" stroke-width="1.18"/><polyline points="450.7,983.6 450.7,984.8 450.8,986.1" stroke-width="1.17"/><polyline points="450.8,986.1 450.9,987.3 451.0,988.7 451.1,989.6" stroke-width="1.23"/><polyline points="451.1,989.6 451.4,991.0 451.4,991.9 451.2,993.1 451.1,994.1 451.0,995.2" stroke-width="1.31"/><polyline points="451.0,995.2 450.9,996.2 450.5,997.3" stroke-width="0.82"/><polyline points="507.8,966.8 508.4,966.3 509.2,965.8 510.1,965.3" stroke-width="1.09"/><polyline points="510.1,965.3 511.0,964.7 511.8,964.0" stroke-width="1.07"/><polyline points="511.8,964.0 512.6,963.4 513.2,963.0" stroke-width="1.30"/><polyline points="513.2,963.0 513.9,962.6 514.6,962.5" stroke-width="1.23"/><polyline points="514.6,962.5 515.6,962.3 516.5,962.2" stroke-width="1.30"/><polyline points="516.5,962.2 517.4,961.9" stroke-width="0.90"/><polyline points="503.3,974.0 503.1,974.9 502.8,975.9 502.5,976.7 502.2,977.6" stroke-width="1.07"/><polyline points="502.2,977.6 501.9,978.2 501.4,978.9 500.8,979.6 500.5,980.6 500.2,981.6" stroke-width="1.31"/><polyline points="500.2,981.6 499.9,982.5 499.5,983.2 499.0,983.8" stroke-width="0.95"/><polyline points="508.9,974.5 509.6,974.5 510.1,974.5 510.7,974.3 511.6,974.0 512.5,973.8" stroke-width="0.94"/><polyline points="512.5,973.8 513.0,973.8 513.6,974.0 514.2,974.0" stroke-width="1.03"/><polyline points="514.2,974.0 514.6,973.9 515.0,973.9 515.5,974.1 516.3,974.4" stroke-width="0.95"/></g>
<g fill="none" stroke="#151515" stroke-linecap="round" stroke-linejoin="round" filter="url(#b06)"><polyline points="477.6,918.8 476.2,920.4 474.7,922.2 473.1,923.9 471.8,925.9 470.6,927.9" stroke-width="1.32"/><polyline points="470.6,927.9 469.5,929.6 468.1,931.4 466.9,933.2 465.5,935.3 464.4,937.3" stroke-width="1.49"/><polyline points="464.4,937.3 463.1,939.1 462.0,941.3" stroke-width="2.27"/><polyline points="462.0,941.3 460.9,943.0 460.0,944.7 459.1,946.3 458.3,947.8 457.7,949.4" stroke-width="1.74"/><polyline points="457.7,949.4 457.1,950.9 456.5,952.3 456.0,953.8 455.7,955.5 455.1,957.2" stroke-width="2.16"/><polyline points="455.1,957.2 454.5,958.7 454.1,960.2 454.1,961.6 454.1,963.2 453.7,964.9" stroke-width="1.77"/><polyline points="453.7,964.9 453.4,966.6 453.3,968.2 453.3,969.6 453.4,971.1 453.2,972.6" stroke-width="2.33"/><polyline points="453.2,972.6 453.1,974.4 452.9,975.9 452.7,977.6" stroke-width="2.10"/><polyline points="452.7,977.6 452.6,979.0" stroke-width="1.74"/><polyline points="496.1,917.5 494.6,918.9 493.4,920.5 492.0,922.5" stroke-width="1.84"/><polyline points="492.0,922.5 491.1,924.3 489.8,926.0" stroke-width="2.09"/><polyline points="489.8,926.0 488.7,927.5 487.5,929.0 486.5,930.9 485.5,932.8" stroke-width="1.64"/><polyline points="485.5,932.8 484.7,934.5 483.6,936.2" stroke-width="2.34"/><polyline points="483.6,936.2 482.4,938.0 481.7,939.4 481.2,940.6" stroke-width="2.04"/><polyline points="481.2,940.6 480.6,942.0 480.0,943.6 479.3,945.3 478.7,946.6" stroke-width="2.26"/><polyline points="478.7,946.6 477.9,948.0 477.1,949.2 476.2,950.9" stroke-width="2.08"/><polyline points="476.2,950.9 475.5,952.5 474.7,954.1" stroke-width="1.68"/><polyline points="474.7,954.1 473.9,955.4 472.7,956.7 471.8,958.2" stroke-width="1.76"/><polyline points="471.8,958.2 471.0,959.5 470.2,960.9 469.2,962.1 468.3,963.5 467.4,964.6" stroke-width="1.97"/><polyline points="467.4,964.6 466.7,965.9 466.0,967.3 465.1,968.7" stroke-width="1.29"/><polyline points="465.1,968.7 464.3,970.0 463.3,971.3" stroke-width="1.42"/><polyline points="463.3,971.3 462.7,972.1 461.8,972.9 461.2,973.8" stroke-width="1.42"/><polyline points="461.2,973.8 460.3,974.5 459.6,975.4 458.7,976.1" stroke-width="1.81"/><polyline points="458.7,976.1 457.8,976.9 456.8,977.7 455.6,978.5 454.9,979.2 454.1,980.0" stroke-width="2.16"/><polyline points="454.1,980.0 453.4,980.7" stroke-width="2.03"/><polyline points="495.0,922.6 494.9,924.0 494.9,925.3" stroke-width="1.63"/><polyline points="494.9,925.3 495.2,926.8 495.1,928.4 494.9,930.2 494.8,931.7" stroke-width="1.72"/><polyline points="494.8,931.7 494.8,933.6 495.1,935.1" stroke-width="1.61"/><polyline points="495.1,935.1 495.2,936.6 495.3,938.1" stroke-width="1.21"/><polyline points="495.3,938.1 495.2,939.5 495.2,941.3" stroke-width="1.78"/><polyline points="495.2,941.3 495.6,943.4 496.3,945.5 496.6,947.4 497.0,949.1 497.6,951.0" stroke-width="2.19"/><polyline points="497.6,951.0 498.5,953.0 499.2,955.1" stroke-width="2.01"/><polyline points="499.2,955.1 499.9,957.2 500.6,959.1 501.6,961.0 502.5,962.8" stroke-width="1.48"/><polyline points="502.5,962.8 503.5,964.7 503.8,966.4 504.5,968.2" stroke-width="1.70"/><polyline points="504.5,968.2 505.0,969.8 505.7,971.3 506.2,972.5" stroke-width="1.49"/><polyline points="506.2,972.5 506.8,973.8 507.2,975.1 507.4,976.7 507.6,978.2 507.9,979.8" stroke-width="2.38"/><polyline points="507.9,979.8 508.5,981.3 509.0,983.0" stroke-width="1.88"/></g>
<rect x="419.0" y="902.1999999999999" width="104.0" height="104.2" filter="url(#noise)" opacity="0.08"/>
</g>
<path d="M520.8,969.9 A52.55,52.55 0 0 1 418.5,947.0" fill="none" stroke="#999" stroke-width="2.3"/>
<rect x="532.1" y="901.3" width="109.79999999999995" height="109.40000000000009" fill="#0b0c08" />
<clipPath id="cc4"><ellipse cx="586.6" cy="954.0" rx="49.0" ry="49.1"/></clipPath>
<g clip-path="url(#cc4)">
<rect x="535.6" y="902.9" width="102.0" height="102.2" fill="#cbcbcb"/>
<rect x="525.6" y="892.9" width="122.0" height="122.2" filter="url(#stH)" opacity="0.12" transform="rotate(8 586.6 954.0)"/>
<g filter="url(#b4)">
<path d="M536.6,914.0 L636.6,924.0" stroke="#d6d6d6" stroke-width="6"/>
<path d="M536.6,989.0 L636.6,996.0" stroke="#d4d4d4" stroke-width="6"/>
</g>
<g filter="url(#b10)" fill="none">
<path d="M545,975 C570,977 600,981 625,985" stroke="#dedede" stroke-width="1.4"/>
<path d="M541,945 C565,947 590,950 630,952" stroke="#d9d9d9" stroke-width="1.2"/>
<path d="M548,990 C570,992 590,995 612,998" stroke="#dadada" stroke-width="1.2"/>
<path d="M550,925 C575,926 600,928 625,932" stroke="#d8d8d8" stroke-width="1.2"/>
</g>
<g fill="none" stroke="#6a6a6a" stroke-linecap="round" stroke-linejoin="round" filter="url(#b06)"><polyline points="567.9,909.8 569.2,911.7 570.5,913.6" stroke-width="0.63"/><polyline points="570.5,913.6 571.5,915.3 572.5,917.0 573.6,918.6" stroke-width="0.74"/><polyline points="573.6,918.6 574.5,920.3 575.4,922.1" stroke-width="1.02"/><polyline points="575.4,922.1 575.9,923.8 576.6,925.6 577.0,927.2 577.4,929.0" stroke-width="0.73"/><polyline points="577.4,929.0 577.7,930.4 578.2,932.3 578.9,934.0 579.5,935.8" stroke-width="0.50"/><polyline points="579.5,935.8 580.5,937.5 581.6,939.2 583.0,940.8 584.2,942.4 585.3,944.1" stroke-width="0.65"/><polyline points="585.3,944.1 586.4,945.5 587.8,946.9" stroke-width="1.12"/><polyline points="587.8,946.9 589.0,948.2 590.2,949.9 591.3,951.3" stroke-width="0.62"/><polyline points="591.3,951.3 593.0,952.5 594.7,953.6 596.8,954.5 598.9,955.4 601.2,956.3" stroke-width="0.81"/><polyline points="601.2,956.3 603.6,957.2 605.9,958.1" stroke-width="0.64"/><polyline points="605.9,958.1 608.1,958.8 610.0,959.6 612.2,960.5" stroke-width="0.85"/><polyline points="612.2,960.5 614.1,961.4 615.5,962.4 616.8,963.3 618.2,964.3 619.7,965.2" stroke-width="1.05"/><polyline points="619.7,965.2 621.0,966.1 622.2,967.0 623.5,968.1 624.8,969.2 626.1,970.3" stroke-width="0.59"/><polyline points="626.1,970.3 627.5,971.3 628.7,972.3 630.0,973.2" stroke-width="0.95"/></g>
<rect x="535.6" y="902.9" width="102.0" height="102.2" filter="url(#noise)" opacity="0.08"/>
<ellipse cx="586.6" cy="954.0" rx="48.2" ry="48.300000000000004" fill="none" stroke="#eeeeee" stroke-width="2" opacity="0.7" filter="url(#b10)"/>
</g>
<path d="M639.6,962.8 A52.78,52.78 0 0 1 534.9,952.1" fill="none" stroke="#999" stroke-width="2.3"/>
<circle cx="122.2" cy="1066.7" r="48.5" fill="none" stroke="#111" stroke-width="1.75"/>
<g ><g transform="translate(122.20,1066.70) scale(0.17509) translate(-355,-295.1)" fill="none" stroke="#111" stroke-width="5.997" stroke-linecap="round" stroke-linejoin="round"><path d="M85,270 C120,275 150,272 185,255 C205,245 220,240 240,245 C290,258 340,275 380,283 C420,292 470,294 520,288 C560,284 590,275 625,268"/></g></g>
<circle cx="237.05" cy="1067.5" r="48.3" fill="none" stroke="#111" stroke-width="1.75"/>
<g ><g transform="translate(237.05,1067.50) scale(0.15189) translate(-336.3,-332.6)" fill="none" stroke="#111" stroke-width="6.913" stroke-linecap="round" stroke-linejoin="round"><path d="M110,135 C104,175 108,215 120,255 C130,290 136,325 127,365 C120,400 112,425 104,440"/><path d="M130,122 C128,145 127,170 125,192"/><path d="M50,380 C70,395 90,415 105,440 C118,465 125,490 127,520 C128,540 130,555 131,565"/><path d="M58,460 L98,457"/><path d="M96,480 L90,512"/><path d="M250,40 C248,70 250,100 265,120 C285,145 286,180 276,215 C258,262 215,300 200,360 C186,420 190,520 216,615"/><path d="M385,40 L384,215"/><path d="M400,100 C420,150 432,200 436,260 C438,300 433,330 430,350"/><path d="M410,200 C395,240 385,280 380,330 C372,380 375,440 380,500 C382,560 385,600 388,630"/><path d="M416,238 C405,280 396,320 389,360"/><path d="M456,85 L446,155"/><path d="M430,370 C440,430 455,500 470,600"/><path d="M380,510 C355,550 335,590 320,640"/><path d="M525,150 C525,200 528,260 535,320 C545,370 541,420 531,470 C523,520 516,555 510,580"/><path d="M610,205 C590,260 570,300 550,355"/><path d="M520,405 C505,430 495,455 485,475"/><path d="M555,468 L598,468"/></g></g>
<circle cx="352.7" cy="1067.3" r="48.0" fill="none" stroke="#111" stroke-width="1.75"/>
<g ><g transform="translate(352.70,1067.30) scale(0.15190) translate(-334,-331.3)" fill="none" stroke="#111" stroke-width="6.912" stroke-linecap="round" stroke-linejoin="round"><path d="M180,90 L290,125"/><path d="M272,62 L345,60"/><path d="M318,62 L322,118"/><path d="M372,82 L490,92"/><path d="M462,98 L462,120"/><path d="M490,95 L515,110"/><path d="M400,150 C430,160 450,175 455,190 C458,205 448,225 435,235"/><path d="M480,180 C500,190 520,205 545,210 L600,215"/><path d="M200,112 C190,150 185,200 185,245"/><path d="M225,120 C220,150 215,170 230,190 C245,215 250,240 248,265"/><path d="M50,235 C100,250 140,260 185,270"/><path d="M35,310 C80,330 120,350 160,375"/><path d="M175,375 C195,350 215,330 240,315"/><path d="M265,310 C280,300 295,295 310,290"/><path d="M300,250 C320,248 345,245 360,255"/><path d="M360,185 L340,235"/><path d="M352,260 C358,290 355,330 348,375"/><path d="M420,215 L412,365"/><path d="M615,245 C560,280 500,315 420,360"/><path d="M535,320 L590,320"/><path d="M560,300 L558,350"/><path d="M245,320 C255,350 270,380 285,400 C300,430 305,470 305,500"/><path d="M285,400 C310,410 335,415 360,410"/><path d="M365,415 C370,400 380,390 395,385 L440,385"/><path d="M430,390 C480,385 530,395 570,405 C590,415 605,425 610,440"/><path d="M430,435 C480,430 520,435 555,445 C570,455 575,475 580,500"/><path d="M375,440 L365,465"/><path d="M620,400 C610,420 600,440 590,450"/><path d="M635,375 L625,395"/><path d="M75,385 C72,410 70,440 68,470"/><path d="M85,485 C110,490 130,500 140,515"/><path d="M120,550 C150,545 180,540 210,535"/><path d="M240,545 L235,600"/><path d="M255,560 L260,625"/><path d="M275,545 C285,545 300,545 310,550"/><path d="M265,420 C260,460 255,500 250,540"/><path d="M365,540 L365,600"/><path d="M380,625 C420,610 450,590 485,570"/></g></g>
<circle cx="470.35" cy="1067.5" r="48.1" fill="none" stroke="#111" stroke-width="1.75"/>
<g ><g transform="translate(470.35,1067.50) scale(0.15174) translate(-338.2,-332.6)" fill="none" stroke="#111" stroke-width="6.920" stroke-linecap="round" stroke-linejoin="round"><path d="M308,35 C300,70 290,100 270,130 C240,165 210,190 190,230 C175,270 165,320 155,365"/><path d="M378,105 C345,150 310,200 280,250 C255,295 240,330 232,370 C228,410 225,450 222,490"/><path d="M382,45 L380,80"/><path d="M405,90 L470,120"/><path d="M495,100 C465,140 435,185 410,230 C395,265 380,300 355,340 C330,375 310,405 290,440 C270,465 250,480 225,500"/><path d="M520,135 L555,125"/><path d="M362,165 C372,190 380,210 388,240"/><path d="M372,168 L382,205"/><path d="M490,130 C488,170 490,210 492,250 C500,300 520,350 545,400 C560,440 570,470 578,515"/><path d="M418,235 C440,245 460,245 482,242"/><path d="M425,240 C445,270 465,290 490,315"/><path d="M70,450 C110,445 145,435 170,410 C185,395 195,380 205,365"/><path d="M215,350 C205,385 195,420 185,460"/><path d="M205,430 L215,435"/><path d="M245,440 C265,430 285,420 305,405"/><path d="M200,500 C190,525 175,555 162,580"/><path d="M210,520 C215,550 215,580 210,605"/><path d="M570,410 C590,398 610,385 630,380"/><path d="M545,460 C535,480 525,500 515,520"/><path d="M580,462 C595,458 610,455 625,458"/></g></g>
<circle cx="587.2" cy="1068.9" r="48.4" fill="none" stroke="#111" stroke-width="1.75"/>
<g ><g transform="translate(587.20,1068.90) scale(0.17536) translate(-355,-307.7)" fill="none" stroke="#111" stroke-width="5.988" stroke-linecap="round" stroke-linejoin="round"><path d="M250,58 C280,100 300,140 305,175 C315,220 350,250 375,285 C400,315 470,330 510,350 C540,370 570,395 600,415"/></g></g>
</svg></body></html>
